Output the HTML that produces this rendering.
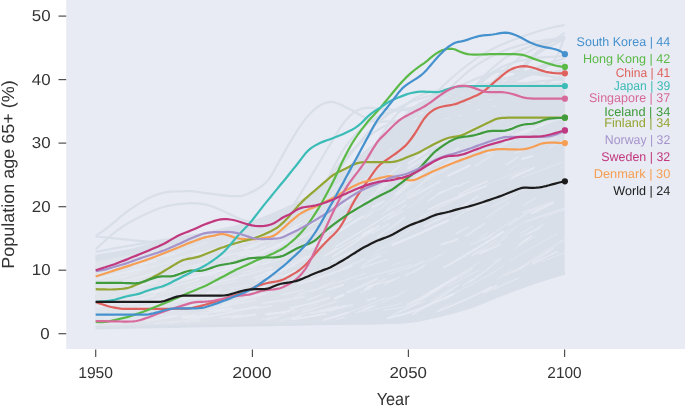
<!DOCTYPE html>
<html><head><meta charset="utf-8"><title>Population age 65+</title>
<style>html,body{margin:0;padding:0;background:#fff}svg{display:block}text{text-rendering:geometricPrecision}</style></head>
<body>
<svg width="685" height="406" viewBox="0 0 685 406">
<rect x="0" y="0" width="685" height="406" fill="#fff"/>
<rect x="66.2" y="0" width="618.8" height="349" fill="#e8ebf3"/>
<g fill="none" stroke="#d9dfe8" stroke-width="2.2" stroke-linecap="butt">
<path d="M95.7,235.9C98.8,233.8 102.0,231.8 105.1,229.5C112.4,224.3 119.7,217.0 127.0,211.7C135.3,205.8 143.6,199.9 152.0,196.5C158.2,194.0 164.5,192.1 170.7,191.7C177.2,191.3 183.6,191.1 190.1,191.1C195.0,191.1 199.9,192.4 204.8,193.0C209.7,193.6 214.6,194.2 219.5,194.8C224.4,195.3 229.3,196.2 234.2,196.2C236.7,196.2 239.2,196.1 241.7,195.9C244.1,195.6 246.5,194.3 248.9,193.3C251.4,192.2 253.9,191.0 256.4,189.5C258.9,188.0 261.4,186.7 263.9,184.4C265.3,183.1 266.8,181.8 268.3,180.0C271.2,176.4 274.1,170.4 277.0,165.4C281.4,157.9 285.8,149.4 290.1,142.2C295.0,134.1 299.9,125.7 304.8,119.6C309.7,113.6 314.6,108.6 319.5,105.7C323.5,103.3 327.4,101.9 331.4,101.9C337.2,101.9 343.1,106.0 348.9,108.8C353.9,111.2 358.9,114.8 363.9,117.1C368.3,119.1 372.7,122.2 377.0,122.2C387.5,122.2 397.9,121.1 408.3,119.0C418.7,116.9 429.1,111.5 439.6,108.2C460.4,101.6 481.2,96.6 502.1,92.3C522.9,88.1 543.8,86.0 564.6,82.8"/>
<path d="M95.7,249.2C103.0,242.9 110.3,235.5 117.6,230.2C125.9,224.0 134.3,219.6 142.6,215.6C149.9,212.0 157.2,208.6 164.5,206.7C170.2,205.1 175.9,204.4 181.7,203.8C184.5,203.5 187.3,203.2 190.1,203.2C195.0,203.2 199.9,203.6 204.8,204.4C209.7,205.2 214.6,207.5 219.5,209.5C224.4,211.5 229.3,214.2 234.2,216.2C239.1,218.1 244.0,220.9 248.9,221.3C255.1,221.7 261.4,221.9 267.6,221.9C274.9,221.9 282.2,217.7 289.5,209.8C296.1,202.8 302.6,189.9 309.2,179.3C315.1,169.8 321.1,159.1 327.0,149.5C333.5,139.1 339.9,126.8 346.4,119.6C349.7,115.9 353.1,112.5 356.4,110.7C360.4,108.6 364.3,107.6 368.3,107.6C371.7,107.6 375.2,108.5 378.6,108.8C388.5,109.7 398.4,110.1 408.3,110.1C423.9,110.1 439.6,100.6 455.2,95.5C470.8,90.4 486.4,83.7 502.1,79.6C522.9,74.2 543.8,73.3 564.6,70.1"/>
<path d="M95.7,236.5C106.1,237.6 116.5,238.7 127.0,239.7C139.3,240.8 151.6,242.5 163.8,242.5C177.6,242.5 191.4,242.0 205.1,241.0C220.7,239.8 236.4,237.1 252.0,232.1C262.4,228.7 272.8,223.6 283.3,219.4"/>
<path d="M95.7,251.8C108.6,249.4 121.5,247.0 134.5,244.8C152.8,241.6 171.1,238.7 189.5,235.9C205.1,233.5 220.7,231.7 236.4,228.9C246.8,227.0 257.2,224.7 267.6,222.5"/>
<path d="M95.7,308.3C137.4,304.1 179.1,304.1 220.7,295.6C241.6,291.4 262.4,285.0 283.3,270.2C304.1,255.4 324.9,231.9 345.8,206.7C361.4,187.8 377.0,162.7 392.7,143.1C408.3,123.6 423.9,104.3 439.6,89.1C456.2,73.0 472.9,59.7 489.6,50.4C499.5,44.9 509.4,41.4 519.3,37.7C529.2,34.0 539.1,30.6 549.0,28.2C554.2,26.9 559.4,26.1 564.6,25.0"/>
<path d="M95.7,301.9C137.4,295.6 179.1,295.6 220.7,282.9C241.6,276.5 262.4,265.9 283.3,251.1C304.1,236.3 324.9,213.0 345.8,194.0C366.6,174.9 387.5,152.7 408.3,136.8C429.1,120.9 450.0,109.3 470.8,98.7C491.7,88.1 512.5,83.8 533.3,73.3C538.6,70.6 543.8,69.6 549.0,65.0C551.6,62.7 554.2,61.5 556.8,56.8C559.4,52.0 562.0,43.2 564.6,36.4"/>
<path d="M95.7,298.5C106.1,298.5 116.5,298.5 127.0,298.4C137.4,298.3 147.8,298.2 158.2,298.0C168.6,297.9 179.1,297.6 189.5,297.5C199.9,297.3 210.3,297.1 220.7,297.0C231.2,296.9 241.6,296.9 252.0,296.8C262.4,296.6 272.8,296.5 283.3,296.0C293.7,295.4 304.1,294.8 314.5,293.2C324.9,291.5 335.4,289.8 345.8,286.0C356.2,282.1 366.6,277.8 377.0,269.9C387.5,262.0 397.9,251.8 408.3,238.5C418.7,225.1 429.1,206.7 439.6,189.6C450.0,172.4 460.4,151.3 470.8,135.3C481.2,119.3 491.7,104.5 502.1,93.6C512.5,82.7 522.9,75.6 533.3,69.7C543.8,63.9 554.2,62.1 564.6,58.3"/>
<path d="M95.7,289.9C106.1,289.9 116.5,289.9 127.0,289.9C137.4,289.9 147.8,289.9 158.2,289.8C168.6,289.8 179.1,289.8 189.5,289.6C199.9,289.5 210.3,289.3 220.7,289.1C231.2,288.9 241.6,288.6 252.0,288.5C262.4,288.3 272.8,288.3 283.3,288.2C293.7,288.1 304.1,288.1 314.5,287.8C324.9,287.5 335.4,287.0 345.8,285.5C356.2,283.9 366.6,282.5 377.0,278.3C387.5,274.1 397.9,269.7 408.3,260.2C418.7,250.8 429.1,238.1 439.6,221.4C450.0,204.7 460.4,180.6 470.8,160.0C481.2,139.4 491.7,114.8 502.1,97.8C512.5,80.7 522.9,67.5 533.3,57.6C543.8,47.8 554.2,45.0 564.6,38.6"/>
<path d="M95.7,314.9C106.1,315.0 116.5,315.0 127.0,315.1C137.4,315.1 147.8,315.3 158.2,315.3C168.6,315.4 179.1,315.4 189.5,315.4C199.9,315.4 210.3,315.2 220.7,315.1C231.2,315.0 241.6,314.8 252.0,314.6C262.4,314.4 272.8,314.3 283.3,313.8C293.7,313.2 304.1,312.9 314.5,311.2C324.9,309.5 335.4,308.4 345.8,303.3C356.2,298.3 366.6,293.0 377.0,281.1C387.5,269.3 397.9,251.5 408.3,232.0C418.7,212.6 429.1,184.1 439.6,164.4C450.0,144.7 460.4,126.1 470.8,113.8C481.2,101.4 491.7,95.7 502.1,90.4C512.5,85.2 522.9,83.9 533.3,82.1C543.8,80.3 554.2,80.3 564.6,79.4"/>
<path d="M95.7,286.0C106.1,285.8 116.5,285.6 127.0,285.3C137.4,285.0 147.8,284.5 158.2,284.1C168.6,283.7 179.1,283.3 189.5,282.9C199.9,282.5 210.3,282.4 220.7,281.7C231.2,281.1 241.6,280.5 252.0,278.9C262.4,277.3 272.8,275.5 283.3,271.9C293.7,268.3 304.1,264.1 314.5,257.3C324.9,250.6 335.4,242.2 345.8,231.2C356.2,220.2 366.6,206.0 377.0,191.4C387.5,176.8 397.9,158.8 408.3,143.6C418.7,128.4 429.1,112.4 439.6,100.1C450.0,87.7 460.4,77.5 470.8,69.4C481.2,61.3 491.7,56.0 502.1,51.5C512.5,46.9 522.9,44.5 533.3,42.1C543.8,39.8 554.2,39.1 564.6,37.5"/>
<path d="M95.7,278.0C106.1,278.0 116.5,278.0 127.0,278.0C137.4,278.0 147.8,278.0 158.2,277.9C168.6,277.9 179.1,277.9 189.5,277.8C199.9,277.7 210.3,277.5 220.7,277.4C231.2,277.2 241.6,277.0 252.0,276.8C262.4,276.7 272.8,276.6 283.3,276.4C293.7,276.2 304.1,276.1 314.5,275.6C324.9,275.0 335.4,274.5 345.8,272.9C356.2,271.3 366.6,269.7 377.0,265.9C387.5,262.1 397.9,257.8 408.3,249.9C418.7,242.0 429.1,231.7 439.6,218.7C450.0,205.8 460.4,187.9 470.8,172.3C481.2,156.6 491.7,138.2 502.1,124.7C512.5,111.3 522.9,100.0 533.3,91.6C543.8,83.1 554.2,79.9 564.6,74.1"/>
<path d="M95.7,313.8C106.1,313.9 116.5,313.9 127.0,313.9C137.4,314.0 147.8,314.1 158.2,314.2C168.6,314.2 179.1,314.4 189.5,314.4C199.9,314.4 210.3,314.3 220.7,314.2C231.2,314.0 241.6,313.7 252.0,313.2C262.4,312.7 272.8,312.3 283.3,311.3C293.7,310.3 304.1,309.5 314.5,307.1C324.9,304.7 335.4,302.5 345.8,296.9C356.2,291.4 366.6,285.0 377.0,273.8C387.5,262.7 397.9,247.4 408.3,230.2C418.7,213.0 429.1,189.5 439.6,170.7C450.0,151.8 460.4,131.6 470.8,117.2C481.2,102.9 491.7,92.6 502.1,84.6C512.5,76.6 522.9,72.8 533.3,69.1C543.8,65.5 554.2,64.8 564.6,62.7"/>
<path d="M95.7,320.1C106.1,320.1 116.5,320.1 127.0,320.1C137.4,320.1 147.8,320.1 158.2,320.1C168.6,320.1 179.1,320.1 189.5,320.1C199.9,320.1 210.3,320.1 220.7,320.1C231.2,320.0 241.6,320.0 252.0,319.8C262.4,319.7 272.8,319.6 283.3,319.1C293.7,318.6 304.1,318.3 314.5,316.7C324.9,315.1 335.4,314.0 345.8,308.7C356.2,303.4 366.6,298.1 377.0,284.8C387.5,271.4 397.9,251.2 408.3,228.7C418.7,206.2 429.1,172.4 439.6,149.6C450.0,126.8 460.4,105.7 470.8,92.0C481.2,78.2 491.7,72.5 502.1,67.0C512.5,61.4 522.9,60.3 533.3,58.6C543.8,56.9 554.2,56.9 564.6,56.1"/>
<path d="M95.7,318.1C106.1,318.1 116.5,318.0 127.0,318.0C137.4,318.0 147.8,318.0 158.2,318.1C168.6,318.1 179.1,318.5 189.5,318.5C199.9,318.5 210.3,317.8 220.7,317.2C231.2,316.6 241.6,315.7 252.0,314.7C262.4,313.7 272.8,312.8 283.3,311.1C293.7,309.4 304.1,307.7 314.5,304.5C324.9,301.4 335.4,298.0 345.8,292.4C356.2,286.8 366.6,280.3 377.0,271.2C387.5,262.0 397.9,250.8 408.3,237.4C418.7,224.1 429.1,207.5 439.6,191.1C450.0,174.6 460.4,155.3 470.8,138.6C481.2,122.0 491.7,104.8 502.1,91.0C512.5,77.1 522.9,65.2 533.3,55.5C543.8,45.8 554.2,40.3 564.6,32.8"/>
<path d="M95.7,286.4C106.1,286.3 116.5,286.3 127.0,286.3C137.4,286.3 147.8,286.3 158.2,286.2C168.6,286.1 179.1,286.0 189.5,285.6C199.9,285.2 210.3,284.2 220.7,283.2C231.2,282.3 241.6,280.9 252.0,279.9C262.4,278.8 272.8,278.9 283.3,276.8C293.7,274.8 304.1,272.8 314.5,267.5C324.9,262.3 335.4,255.4 345.8,245.2C356.2,235.1 366.6,221.1 377.0,206.5C387.5,192.0 397.9,173.0 408.3,158.0C418.7,143.0 429.1,127.7 439.6,116.6C450.0,105.5 460.4,97.7 470.8,91.4C481.2,85.1 491.7,82.0 502.1,79.0C512.5,76.1 522.9,74.9 533.3,73.6C543.8,72.3 554.2,72.1 564.6,71.4"/>
<path d="M95.7,314.5C106.1,314.6 116.5,314.7 127.0,314.8C137.4,314.9 147.8,315.3 158.2,315.3C168.6,315.3 179.1,315.3 189.5,315.1C199.9,315.0 210.3,314.4 220.7,313.8C231.2,313.2 241.6,312.6 252.0,311.7C262.4,310.7 272.8,309.9 283.3,308.1C293.7,306.4 304.1,304.6 314.5,301.1C324.9,297.6 335.4,293.7 345.8,287.0C356.2,280.2 366.6,272.1 377.0,260.8C387.5,249.4 397.9,234.7 408.3,218.7C418.7,202.7 429.1,182.4 439.6,164.6C450.0,146.8 460.4,127.1 470.8,111.8C481.2,96.5 491.7,83.1 502.1,72.6C512.5,62.1 522.9,54.9 533.3,48.9C543.8,42.9 554.2,40.5 564.6,36.3"/>
<path d="M95.7,301.8C106.1,301.5 116.5,301.3 127.0,301.0C137.4,300.6 147.8,300.0 158.2,299.8C168.6,299.5 179.1,299.3 189.5,299.3C199.9,299.3 210.3,299.8 220.7,300.0C231.2,300.2 241.6,300.6 252.0,300.6C262.4,300.6 272.8,300.4 283.3,300.1C293.7,299.7 304.1,299.1 314.5,297.9C324.9,296.7 335.4,295.5 345.8,292.9C356.2,290.4 366.6,287.6 377.0,282.6C387.5,277.5 397.9,271.4 408.3,262.4C418.7,253.4 429.1,241.8 439.6,228.5C450.0,215.2 460.4,198.1 470.8,182.8C481.2,167.6 491.7,150.3 502.1,136.9C512.5,123.5 522.9,111.7 533.3,102.6C543.8,93.4 554.2,88.9 564.6,82.1"/>
<path d="M95.7,318.0C106.1,318.0 116.5,318.0 127.0,318.0C137.4,318.0 147.8,318.0 158.2,318.0C168.6,317.9 179.1,317.9 189.5,317.8C199.9,317.7 210.3,317.5 220.7,317.1C231.2,316.7 241.6,316.1 252.0,315.5C262.4,315.0 272.8,314.8 283.3,313.7C293.7,312.6 304.1,312.0 314.5,309.0C324.9,306.1 335.4,303.0 345.8,296.0C356.2,288.9 366.6,280.4 377.0,266.7C387.5,253.1 397.9,234.0 408.3,214.1C418.7,194.2 429.1,167.7 439.6,147.4C450.0,127.0 460.4,106.5 470.8,92.0C481.2,77.5 491.7,67.9 502.1,60.1C512.5,52.3 522.9,48.9 533.3,45.4C543.8,42.0 554.2,41.4 564.6,39.4"/>
<path d="M95.7,315.3C106.1,315.2 116.5,315.2 127.0,315.2C137.4,315.2 147.8,315.2 158.2,315.2C168.6,315.1 179.1,315.1 189.5,315.0C199.9,314.8 210.3,314.8 220.7,314.3C231.2,313.9 241.6,313.7 252.0,312.4C262.4,311.1 272.8,310.2 283.3,306.4C293.7,302.5 304.1,298.7 314.5,289.2C324.9,279.7 335.4,266.2 345.8,249.2C356.2,232.1 366.6,206.6 377.0,186.9C387.5,167.2 397.9,145.1 408.3,131.0C418.7,116.9 429.1,107.6 439.6,102.3C450.0,97.0 460.4,96.2 470.8,94.4C481.2,92.6 491.7,92.0 502.1,91.3C512.5,90.6 522.9,90.4 533.3,90.2C543.8,89.9 554.2,89.9 564.6,89.8"/>
<path d="M95.7,307.1C106.1,307.1 116.5,307.1 127.0,307.1C137.4,307.1 147.8,307.1 158.2,307.1C168.6,307.1 179.1,307.1 189.5,307.0C199.9,307.0 210.3,307.0 220.7,306.8C231.2,306.7 241.6,306.7 252.0,306.3C262.4,306.0 272.8,305.8 283.3,304.9C293.7,304.0 304.1,303.4 314.5,301.1C324.9,298.7 335.4,296.6 345.8,291.0C356.2,285.4 366.6,279.1 377.0,267.3C387.5,255.5 397.9,238.1 408.3,220.2C418.7,202.4 429.1,175.9 439.6,160.2C450.0,144.5 460.4,134.6 470.8,126.1C481.2,117.6 491.7,113.6 502.1,109.4C512.5,105.2 522.9,102.9 533.3,100.9C543.8,98.9 554.2,98.7 564.6,97.5"/>
<path d="M95.7,320.2C106.1,320.1 116.5,320.0 127.0,319.8C137.4,319.6 147.8,319.3 158.2,318.8C168.6,318.4 179.1,317.9 189.5,316.8C199.9,315.7 210.3,314.7 220.7,312.4C231.2,310.1 241.6,307.6 252.0,303.0C262.4,298.5 272.8,293.0 283.3,284.9C293.7,276.7 304.1,266.1 314.5,253.9C324.9,241.7 335.4,226.0 345.8,211.8C356.2,197.5 366.6,181.9 377.0,168.6C387.5,155.2 397.9,142.3 408.3,131.7C418.7,121.2 429.1,107.9 439.6,105.2C450.0,102.6 460.4,101.2 470.8,101.2C481.2,101.2 491.7,102.0 502.1,102.0C512.5,102.0 522.9,100.9 533.3,100.4C543.8,100.0 554.2,99.8 564.6,99.5"/>
<path d="M95.7,279.4C106.1,279.4 116.5,279.4 127.0,279.4C137.4,279.4 147.8,279.4 158.2,279.4C168.6,279.4 179.1,279.4 189.5,279.3C199.9,279.3 210.3,279.2 220.7,279.1C231.2,279.0 241.6,278.9 252.0,278.6C262.4,278.3 272.8,278.0 283.3,277.2C293.7,276.4 304.1,275.7 314.5,273.8C324.9,271.9 335.4,270.0 345.8,265.6C356.2,261.3 366.6,256.1 377.0,247.8C387.5,239.5 397.9,228.1 408.3,215.9C418.7,203.7 429.1,187.9 439.6,174.5C450.0,161.0 460.4,146.2 470.8,135.1C481.2,124.0 491.7,110.1 502.1,107.7C512.5,105.3 522.9,104.1 533.3,104.1C543.8,104.1 554.2,104.1 564.6,104.1"/>
<path d="M95.7,298.5C106.1,298.5 116.5,298.5 127.0,298.5C137.4,298.5 147.8,298.5 158.2,298.4C168.6,298.4 179.1,298.4 189.5,298.4C199.9,298.4 210.3,298.4 220.7,298.3C231.2,298.2 241.6,298.2 252.0,298.0C262.4,297.8 272.8,297.7 283.3,297.2C293.7,296.7 304.1,296.3 314.5,295.0C324.9,293.7 335.4,292.6 345.8,289.3C356.2,286.0 366.6,282.6 377.0,275.3C387.5,267.9 397.9,258.7 408.3,245.1C418.7,231.5 429.1,212.5 439.6,193.4C450.0,174.3 460.4,147.4 470.8,130.6C481.2,113.8 491.7,96.8 502.1,92.5C512.5,88.3 522.9,87.7 533.3,86.2C543.8,84.7 554.2,84.5 564.6,83.7"/>
<path d="M95.7,303.0C106.1,303.0 116.5,303.0 127.0,303.0C137.4,302.9 147.8,302.9 158.2,302.8C168.6,302.8 179.1,302.7 189.5,302.5C199.9,302.2 210.3,302.1 220.7,301.3C231.2,300.5 241.6,300.0 252.0,297.6C262.4,295.2 272.8,293.2 283.3,287.0C293.7,280.7 304.1,272.8 314.5,260.0C324.9,247.1 335.4,227.4 345.8,209.7C356.2,192.1 366.6,169.2 377.0,154.1C387.5,139.0 397.9,127.3 408.3,119.0C418.7,110.6 429.1,107.4 439.6,103.9C450.0,100.3 460.4,99.1 470.8,97.7C481.2,96.3 491.7,95.4 502.1,95.4C512.5,95.4 522.9,95.9 533.3,96.0C543.8,96.0 554.2,96.0 564.6,96.1"/>
<path d="M95.7,313.7C106.1,313.7 116.5,313.7 127.0,313.7C137.4,313.6 147.8,313.6 158.2,313.5C168.6,313.4 179.1,313.3 189.5,313.2C199.9,313.0 210.3,312.8 220.7,312.4C231.2,312.1 241.6,311.7 252.0,310.9C262.4,310.1 272.8,309.4 283.3,307.7C293.7,306.1 304.1,304.5 314.5,301.3C324.9,298.1 335.4,294.6 345.8,288.8C356.2,283.0 366.6,276.3 377.0,266.6C387.5,257.0 397.9,245.5 408.3,231.1C418.7,216.6 429.1,193.9 439.6,179.8C450.0,165.7 460.4,155.0 470.8,146.5C481.2,137.9 491.7,134.1 502.1,128.6C512.5,123.1 522.9,117.5 533.3,113.6C543.8,109.7 554.2,108.0 564.6,105.3"/>
<path d="M95.7,308.0C106.1,307.9 116.5,307.9 127.0,307.8C137.4,307.8 147.8,307.7 158.2,307.6C168.6,307.4 179.1,307.2 189.5,306.8C199.9,306.4 210.3,306.0 220.7,304.9C231.2,303.8 241.6,302.8 252.0,300.2C262.4,297.6 272.8,294.9 283.3,289.1C293.7,283.4 304.1,276.2 314.5,265.5C324.9,254.8 335.4,240.0 345.8,224.9C356.2,209.9 366.6,190.3 377.0,175.2C387.5,160.1 397.9,145.2 408.3,134.4C418.7,123.6 429.1,116.5 439.6,110.3C450.0,104.1 460.4,100.6 470.8,97.1C481.2,93.6 491.7,90.3 502.1,89.4C512.5,88.4 522.9,88.0 533.3,88.0C543.8,88.0 554.2,89.6 564.6,90.4"/>
<path d="M95.7,296.7C106.1,296.7 116.5,296.7 127.0,296.7C137.4,296.7 147.8,296.7 158.2,296.7C168.6,296.6 179.1,296.6 189.5,296.6C199.9,296.6 210.3,296.6 220.7,296.5C231.2,296.5 241.6,296.4 252.0,296.3C262.4,296.1 272.8,296.0 283.3,295.5C293.7,295.1 304.1,294.8 314.5,293.6C324.9,292.3 335.4,291.5 345.8,288.3C356.2,285.0 366.6,282.1 377.0,274.1C387.5,266.1 397.9,253.7 408.3,240.4C418.7,227.2 429.1,209.3 439.6,194.5C450.0,179.8 460.4,164.1 470.8,151.9C481.2,139.7 491.7,128.8 502.1,121.2C512.5,113.5 522.9,109.5 533.3,105.9C543.8,102.3 554.2,101.7 564.6,99.7"/>
<path d="M95.7,299.9C106.1,299.9 116.5,299.8 127.0,299.8C137.4,299.7 147.8,299.6 158.2,299.5C168.6,299.3 179.1,299.2 189.5,298.7C199.9,298.3 210.3,297.9 220.7,296.9C231.2,295.9 241.6,294.9 252.0,292.5C262.4,290.1 272.8,287.7 283.3,282.5C293.7,277.3 304.1,271.0 314.5,261.3C324.9,251.7 335.4,238.6 345.8,224.8C356.2,210.9 366.6,192.7 377.0,178.1C387.5,163.6 397.9,148.5 408.3,137.5C418.7,126.4 429.1,118.4 439.6,112.0C450.0,105.7 460.4,102.5 470.8,99.5C481.2,96.5 491.7,95.3 502.1,93.9C512.5,92.6 522.9,92.2 533.3,91.6C543.8,91.1 554.2,91.0 564.6,90.6"/>
<path d="M95.7,303.2C106.1,303.2 116.5,303.2 127.0,303.1C137.4,303.1 147.8,303.0 158.2,302.9C168.6,302.7 179.1,302.6 189.5,302.2C199.9,301.7 210.3,301.4 220.7,300.2C231.2,299.0 241.6,298.1 252.0,295.0C262.4,292.0 272.8,288.9 283.3,282.0C293.7,275.1 304.1,266.1 314.5,253.8C324.9,241.6 335.4,223.9 345.8,208.5C356.2,193.2 366.6,174.6 377.0,161.7C387.5,148.7 397.9,138.6 408.3,130.7C418.7,122.8 429.1,118.7 439.6,114.5C450.0,110.2 460.4,105.7 470.8,105.2C481.2,104.7 491.7,104.4 502.1,104.4C512.5,104.4 522.9,106.3 533.3,106.5C543.8,106.6 554.2,106.6 564.6,106.7"/>
<path d="M95.7,287.6C106.1,287.6 116.5,287.6 127.0,287.5C137.4,287.5 147.8,287.4 158.2,287.3C168.6,287.2 179.1,287.1 189.5,286.9C199.9,286.6 210.3,286.4 220.7,285.9C231.2,285.4 241.6,284.9 252.0,283.9C262.4,282.9 272.8,281.9 283.3,279.8C293.7,277.8 304.1,275.5 314.5,271.6C324.9,267.7 335.4,263.1 345.8,256.2C356.2,249.3 366.6,240.8 377.0,230.0C387.5,219.3 397.9,205.3 408.3,191.7C418.7,178.1 429.1,161.1 439.6,148.6C450.0,136.1 460.4,124.8 470.8,116.8C481.2,108.8 491.7,104.6 502.1,100.3C512.5,96.0 522.9,93.4 533.3,90.9C543.8,88.4 554.2,87.1 564.6,85.2"/>
<path d="M95.7,314.4C106.1,314.3 116.5,314.3 127.0,314.3C137.4,314.3 147.8,314.3 158.2,314.3C168.6,314.3 179.1,314.3 189.5,314.3C199.9,314.3 210.3,314.3 220.7,314.2C231.2,314.1 241.6,314.1 252.0,313.8C262.4,313.6 272.8,313.4 283.3,312.7C293.7,311.9 304.1,311.4 314.5,308.8C324.9,306.2 335.4,304.1 345.8,296.6C356.2,289.1 366.6,279.6 377.0,263.9C387.5,248.2 397.9,223.4 408.3,202.4C418.7,181.4 429.1,155.6 439.6,137.7C450.0,119.8 460.4,106.2 470.8,95.0C481.2,83.8 491.7,70.5 502.1,70.5C512.5,70.5 522.9,71.1 533.3,72.3C543.8,73.5 554.2,78.0 564.6,80.8"/>
<path d="M95.7,288.4C106.1,288.3 116.5,288.3 127.0,288.2C137.4,288.1 147.8,288.0 158.2,287.8C168.6,287.6 179.1,287.4 189.5,286.9C199.9,286.4 210.3,285.9 220.7,284.7C231.2,283.4 241.6,282.2 252.0,279.4C262.4,276.5 272.8,273.5 283.3,267.5C293.7,261.5 304.1,254.1 314.5,243.6C324.9,233.1 335.4,218.7 345.8,204.5C356.2,190.3 366.6,172.3 377.0,158.4C387.5,144.4 397.9,130.9 408.3,120.7C418.7,110.5 429.1,103.8 439.6,97.2C450.0,90.5 460.4,85.3 470.8,81.0C481.2,76.7 491.7,71.5 502.1,71.5C512.5,71.5 522.9,72.9 533.3,74.1C543.8,75.3 554.2,77.0 564.6,78.5"/>
<path d="M95.7,284.3C106.1,284.2 116.5,284.2 127.0,284.2C137.4,284.2 147.8,284.2 158.2,284.1C168.6,284.1 179.1,284.1 189.5,284.0C199.9,283.9 210.3,283.8 220.7,283.6C231.2,283.4 241.6,283.2 252.0,282.7C262.4,282.2 272.8,281.8 283.3,280.7C293.7,279.6 304.1,278.6 314.5,276.2C324.9,273.9 335.4,271.5 345.8,266.8C356.2,262.1 366.6,256.9 377.0,248.3C387.5,239.7 397.9,229.8 408.3,215.4C418.7,201.1 429.1,176.1 439.6,162.2C450.0,148.4 460.4,140.9 470.8,132.4C481.2,123.8 491.7,116.9 502.1,110.8C512.5,104.6 522.9,99.3 533.3,95.5C543.8,91.6 554.2,90.4 564.6,87.8"/>
<path d="M95.7,315.1C106.1,314.9 116.5,314.9 127.0,314.7C137.4,314.4 147.8,314.2 158.2,313.8C168.6,313.3 179.1,312.8 189.5,311.8C199.9,310.8 210.3,309.8 220.7,307.8C231.2,305.8 241.6,303.6 252.0,299.6C262.4,295.6 272.8,291.0 283.3,283.9C293.7,276.8 304.1,267.9 314.5,257.1C324.9,246.3 335.4,232.4 345.8,219.0C356.2,205.7 366.6,190.1 377.0,177.2C387.5,164.4 397.9,152.3 408.3,142.1C418.7,131.9 429.1,123.8 439.6,116.0C450.0,108.2 460.4,98.8 470.8,95.5C481.2,92.2 491.7,90.6 502.1,90.6C512.5,90.6 522.9,94.4 533.3,94.8C543.8,95.3 554.2,95.3 564.6,95.5"/>
<path d="M95.7,284.4C106.1,284.3 116.5,284.3 127.0,284.1C137.4,283.9 147.8,283.8 158.2,283.3C168.6,282.8 179.1,282.4 189.5,281.2C199.9,279.9 210.3,278.9 220.7,275.8C231.2,272.8 241.6,269.6 252.0,263.1C262.4,256.6 272.8,247.9 283.3,236.9C293.7,225.9 304.1,210.3 314.5,197.0C324.9,183.7 335.4,168.0 345.8,156.9C356.2,145.8 366.6,137.2 377.0,130.4C387.5,123.7 397.9,120.6 408.3,116.5C418.7,112.4 429.1,108.4 439.6,105.8C450.0,103.2 460.4,100.8 470.8,100.8C481.2,100.8 491.7,104.7 502.1,106.0C512.5,107.3 522.9,108.5 533.3,108.5C543.8,108.6 554.2,108.6 564.6,108.7"/>
<path d="M95.7,285.3C106.1,285.3 116.5,285.3 127.0,285.3C137.4,285.3 147.8,285.3 158.2,285.3C168.6,285.3 179.1,285.3 189.5,285.3C199.9,285.2 210.3,285.2 220.7,285.1C231.2,285.0 241.6,284.9 252.0,284.5C262.4,284.1 272.8,283.8 283.3,282.5C293.7,281.2 304.1,280.2 314.5,275.9C324.9,271.6 335.4,266.7 345.8,256.8C356.2,246.9 366.6,231.1 377.0,216.6C387.5,202.1 397.9,182.2 408.3,169.7C418.7,157.3 429.1,148.1 439.6,141.7C450.0,135.4 460.4,133.6 470.8,131.6C481.2,129.7 491.7,129.3 502.1,128.7C512.5,128.1 522.9,128.0 533.3,127.8C543.8,127.6 554.2,127.6 564.6,127.5"/>
<path d="M95.7,305.5C106.1,305.5 116.5,305.5 127.0,305.5C137.4,305.5 147.8,305.5 158.2,305.5C168.6,305.5 179.1,305.5 189.5,305.4C199.9,305.4 210.3,305.4 220.7,305.2C231.2,305.1 241.6,305.0 252.0,304.7C262.4,304.3 272.8,304.1 283.3,302.9C293.7,301.8 304.1,301.0 314.5,297.8C324.9,294.6 335.4,291.5 345.8,283.7C356.2,275.8 366.6,265.3 377.0,250.7C387.5,236.1 397.9,214.2 408.3,196.1C418.7,177.9 429.1,155.8 439.6,141.6C450.0,127.5 460.4,117.4 470.8,111.1C481.2,104.9 491.7,103.7 502.1,101.7C512.5,99.8 522.9,99.5 533.3,98.8C543.8,98.1 554.2,98.0 564.6,97.5"/>
<path d="M95.7,280.5C106.1,280.5 116.5,280.5 127.0,280.5C137.4,280.5 147.8,280.5 158.2,280.5C168.6,280.5 179.1,280.5 189.5,280.5C199.9,280.5 210.3,280.4 220.7,280.3C231.2,280.2 241.6,280.1 252.0,279.7C262.4,279.3 272.8,278.9 283.3,277.4C293.7,275.8 304.1,274.5 314.5,268.7C324.9,262.9 335.4,255.2 345.8,241.6C356.2,228.0 366.6,204.9 377.0,187.2C387.5,169.4 397.9,147.8 408.3,135.1C418.7,122.4 429.1,115.2 439.6,111.0C450.0,106.8 460.4,105.4 470.8,104.7C481.2,103.9 491.7,103.7 502.1,103.5C512.5,103.2 522.9,103.2 533.3,103.1C543.8,103.0 554.2,103.0 564.6,103.0"/>
<path d="M95.7,301.1C106.1,301.1 116.5,301.1 127.0,301.1C137.4,301.0 147.8,301.0 158.2,300.9C168.6,300.8 179.1,300.7 189.5,300.4C199.9,300.0 210.3,299.7 220.7,298.2C231.2,296.8 241.6,295.5 252.0,290.0C262.4,284.6 272.8,277.4 283.3,263.4C293.7,249.3 304.1,225.2 314.5,205.7C324.9,186.2 335.4,160.9 345.8,146.2C356.2,131.5 366.6,123.5 377.0,117.4C387.5,111.3 397.9,110.4 408.3,108.3C418.7,106.2 429.1,105.9 439.6,104.9C450.0,103.9 460.4,102.2 470.8,102.2C481.2,102.2 491.7,102.3 502.1,102.6C512.5,102.8 522.9,104.1 533.3,104.5C543.8,104.9 554.2,104.9 564.6,105.1"/>
<path d="M95.7,284.6C106.1,284.6 116.5,284.6 127.0,284.6C137.4,284.6 147.8,284.6 158.2,284.5C168.6,284.5 179.1,284.4 189.5,284.3C199.9,284.1 210.3,284.1 220.7,283.6C231.2,283.2 241.6,282.9 252.0,281.6C262.4,280.3 272.8,279.3 283.3,275.7C293.7,272.1 304.1,268.1 314.5,259.8C324.9,251.5 335.4,239.4 345.8,225.8C356.2,212.2 366.6,192.4 377.0,178.0C387.5,163.5 397.9,148.5 408.3,139.2C418.7,129.9 429.1,124.5 439.6,122.3C450.0,120.1 460.4,119.5 470.8,119.0C481.2,118.5 491.7,118.5 502.1,118.3C512.5,118.0 522.9,117.9 533.3,117.7C543.8,117.6 554.2,117.6 564.6,117.5"/>
<path d="M95.7,305.8C106.1,305.8 116.5,305.8 127.0,305.8C137.4,305.8 147.8,305.8 158.2,305.8C168.6,305.8 179.1,305.8 189.5,305.8C199.9,305.8 210.3,305.8 220.7,305.7C231.2,305.7 241.6,305.7 252.0,305.5C262.4,305.4 272.8,305.3 283.3,304.8C293.7,304.3 304.1,303.8 314.5,301.7C324.9,299.7 335.4,297.8 345.8,290.0C356.2,282.3 366.6,271.0 377.0,252.9C387.5,234.8 397.9,203.6 408.3,181.4C418.7,159.3 429.1,134.8 439.6,119.9C450.0,105.0 460.4,97.9 470.8,92.1C481.2,86.3 491.7,83.4 502.1,83.4C512.5,83.4 522.9,83.7 533.3,84.1C543.8,84.6 554.2,85.5 564.6,86.2"/>
<path d="M95.7,294.7C106.1,294.6 116.5,294.6 127.0,294.4C137.4,294.3 147.8,294.2 158.2,293.9C168.6,293.5 179.1,293.3 189.5,292.4C199.9,291.6 210.3,290.9 220.7,288.9C231.2,287.0 241.6,285.0 252.0,280.6C262.4,276.3 272.8,271.1 283.3,262.9C293.7,254.7 304.1,243.5 314.5,231.6C324.9,219.7 335.4,204.0 345.8,191.5C356.2,179.1 366.6,166.2 377.0,157.0C387.5,147.7 397.9,141.2 408.3,135.9C418.7,130.6 429.1,127.9 439.6,125.0C450.0,122.1 460.4,118.6 470.8,118.6C481.2,118.6 491.7,118.6 502.1,118.7C512.5,118.7 522.9,118.8 533.3,118.8C543.8,118.8 554.2,118.6 564.6,118.5"/>
<path d="M95.7,291.3C106.1,291.3 116.5,291.2 127.0,291.1C137.4,290.9 147.8,290.8 158.2,290.4C168.6,290.0 179.1,289.7 189.5,288.7C199.9,287.7 210.3,286.8 220.7,284.3C231.2,281.8 241.6,279.2 252.0,273.5C262.4,267.8 272.8,260.6 283.3,249.9C293.7,239.2 304.1,224.0 314.5,209.2C324.9,194.3 335.4,175.0 345.8,160.7C356.2,146.4 366.6,133.0 377.0,123.3C387.5,113.7 397.9,107.9 408.3,102.9C418.7,97.9 429.1,96.1 439.6,93.4C450.0,90.8 460.4,89.0 470.8,87.1C481.2,85.3 491.7,82.4 502.1,82.4C512.5,82.4 522.9,83.5 533.3,84.3C543.8,85.1 554.2,86.3 564.6,87.3"/>
<path d="M95.7,304.4C106.1,304.4 116.5,304.4 127.0,304.4C137.4,304.3 147.8,304.3 158.2,304.3C168.6,304.3 179.1,304.3 189.5,304.3C199.9,304.2 210.3,304.2 220.7,304.0C231.2,303.8 241.6,303.5 252.0,302.7C262.4,301.9 272.8,301.1 283.3,297.9C293.7,294.6 304.1,291.2 314.5,280.1C324.9,268.9 335.4,251.1 345.8,230.8C356.2,210.5 366.6,178.2 377.0,158.5C387.5,138.8 397.9,122.8 408.3,112.4C418.7,102.0 429.1,99.2 439.6,96.3C450.0,93.4 460.4,92.6 470.8,91.9C481.2,91.2 491.7,91.0 502.1,90.8C512.5,90.7 522.9,90.6 533.3,90.6C543.8,90.5 554.2,90.5 564.6,90.5"/>
<path d="M95.7,301.2C106.1,301.2 116.5,301.2 127.0,301.2C137.4,301.2 147.8,301.2 158.2,301.1C168.6,301.1 179.1,301.0 189.5,300.8C199.9,300.6 210.3,300.5 220.7,299.9C231.2,299.3 241.6,298.9 252.0,296.8C262.4,294.8 272.8,293.1 283.3,287.3C293.7,281.4 304.1,274.0 314.5,261.7C324.9,249.4 335.4,230.3 345.8,213.3C356.2,196.4 366.6,174.2 377.0,160.0C387.5,145.9 397.9,132.2 408.3,128.4C418.7,124.7 429.1,122.8 439.6,122.8C450.0,122.8 460.4,124.4 470.8,124.5C481.2,124.5 491.7,124.5 502.1,124.5C512.5,124.5 522.9,124.3 533.3,124.3C543.8,124.2 554.2,124.2 564.6,124.2"/>
<path d="M95.7,277.3C106.1,277.3 116.5,277.3 127.0,277.3C137.4,277.3 147.8,277.3 158.2,277.3C168.6,277.3 179.1,277.2 189.5,277.2C199.9,277.1 210.3,277.1 220.7,276.9C231.2,276.7 241.6,276.6 252.0,276.2C262.4,275.7 272.8,275.3 283.3,274.1C293.7,272.9 304.1,271.8 314.5,268.7C324.9,265.7 335.4,262.3 345.8,255.7C356.2,249.2 366.6,240.6 377.0,229.3C387.5,218.0 397.9,201.4 408.3,187.7C418.7,174.0 429.1,156.1 439.6,147.2C450.0,138.4 460.4,137.0 470.8,134.0C481.2,131.1 491.7,130.9 502.1,129.6C512.5,128.3 522.9,127.2 533.3,126.4C543.8,125.7 554.2,125.5 564.6,125.1"/>
<path d="M95.7,297.2C106.1,297.2 116.5,297.2 127.0,297.2C137.4,297.1 147.8,297.1 158.2,297.1C168.6,297.1 179.1,297.1 189.5,297.0C199.9,296.8 210.3,296.8 220.7,296.4C231.2,296.1 241.6,295.9 252.0,294.8C262.4,293.7 272.8,293.0 283.3,289.5C293.7,286.0 304.1,282.8 314.5,274.0C324.9,265.2 335.4,252.7 345.8,236.5C356.2,220.3 366.6,195.8 377.0,177.1C387.5,158.4 397.9,138.1 408.3,124.3C418.7,110.5 429.1,98.0 439.6,94.5C450.0,91.0 460.4,90.4 470.8,89.2C481.2,88.0 491.7,87.8 502.1,87.3C512.5,86.8 522.9,86.5 533.3,86.3C543.8,86.1 554.2,86.1 564.6,86.0"/>
<path d="M95.7,310.1C106.1,310.0 116.5,310.0 127.0,309.9C137.4,309.8 147.8,309.7 158.2,309.3C168.6,309.0 179.1,308.7 189.5,307.9C199.9,307.1 210.3,306.4 220.7,304.4C231.2,302.5 241.6,300.5 252.0,296.1C262.4,291.6 272.8,286.4 283.3,277.5C293.7,268.6 304.1,256.7 314.5,242.8C324.9,229.0 335.4,210.1 345.8,194.4C356.2,178.7 366.6,161.4 377.0,148.6C387.5,135.7 397.9,125.3 408.3,117.4C418.7,109.5 429.1,104.1 439.6,100.9C450.0,97.8 460.4,97.2 470.8,96.2C481.2,95.2 491.7,95.1 502.1,94.7C512.5,94.3 522.9,94.0 533.3,93.8C543.8,93.5 554.2,93.5 564.6,93.3"/>
<path d="M95.7,306.2C106.1,306.2 116.5,306.2 127.0,306.2C137.4,306.2 147.8,306.1 158.2,306.1C168.6,306.1 179.1,306.0 189.5,305.9C199.9,305.8 210.3,305.8 220.7,305.5C231.2,305.2 241.6,305.0 252.0,304.3C262.4,303.6 272.8,303.1 283.3,301.4C293.7,299.7 304.1,298.2 314.5,294.3C324.9,290.4 335.4,286.0 345.8,278.1C356.2,270.2 366.6,259.7 377.0,247.0C387.5,234.4 397.9,217.3 408.3,202.3C418.7,187.2 429.1,169.5 439.6,156.6C450.0,143.7 460.4,132.0 470.8,124.9C481.2,117.8 491.7,114.3 502.1,114.2C512.5,114.0 522.9,114.0 533.3,113.9C543.8,113.8 554.2,113.7 564.6,113.6"/>
<path d="M95.7,272.8C106.1,272.8 116.5,272.8 127.0,272.8C137.4,272.8 147.8,272.8 158.2,272.8C168.6,272.8 179.1,272.8 189.5,272.8C199.9,272.8 210.3,272.8 220.7,272.7C231.2,272.6 241.6,272.6 252.0,272.3C262.4,272.0 272.8,271.8 283.3,270.8C293.7,269.7 304.1,268.8 314.5,264.9C324.9,261.0 335.4,256.1 345.8,245.0C356.2,233.9 366.6,215.3 377.0,198.3C387.5,181.4 397.9,157.9 408.3,143.3C418.7,128.6 429.1,116.6 439.6,110.3C450.0,103.9 460.4,100.7 470.8,100.7C481.2,100.7 491.7,103.0 502.1,103.8C512.5,104.7 522.9,105.7 533.3,105.8C543.8,105.9 554.2,105.9 564.6,106.0"/>
<path d="M95.7,286.0C106.1,285.9 116.5,285.9 127.0,285.7C137.4,285.5 147.8,285.3 158.2,284.8C168.6,284.4 179.1,283.9 189.5,282.8C199.9,281.6 210.3,280.5 220.7,277.7C231.2,275.0 241.6,272.0 252.0,266.2C262.4,260.4 272.8,252.9 283.3,243.2C293.7,233.4 304.1,219.9 314.5,207.7C324.9,195.5 335.4,180.8 345.8,170.0C356.2,159.2 366.6,149.9 377.0,143.0C387.5,136.0 397.9,132.1 408.3,128.4C418.7,124.8 429.1,122.7 439.6,121.0C450.0,119.2 460.4,117.9 470.8,117.9C481.2,117.9 491.7,118.0 502.1,118.0C512.5,118.0 522.9,117.9 533.3,117.9C543.8,117.8 554.2,117.8 564.6,117.7"/>
<path d="M95.7,301.4C106.1,301.4 116.5,301.4 127.0,301.4C137.4,301.4 147.8,301.4 158.2,301.4C168.6,301.4 179.1,301.4 189.5,301.4C199.9,301.4 210.3,301.3 220.7,301.3C231.2,301.2 241.6,301.2 252.0,301.0C262.4,300.8 272.8,300.6 283.3,299.9C293.7,299.2 304.1,298.6 314.5,296.2C324.9,293.7 335.4,291.7 345.8,284.4C356.2,277.0 366.6,267.6 377.0,252.1C387.5,236.5 397.9,211.1 408.3,191.0C418.7,170.9 429.1,145.5 439.6,131.5C450.0,117.6 460.4,111.4 470.8,107.2C481.2,103.1 491.7,102.5 502.1,101.0C512.5,99.6 522.9,99.0 533.3,98.5C543.8,97.9 554.2,97.9 564.6,97.6"/>
<path d="M95.7,297.1C106.1,297.1 116.5,297.1 127.0,297.1C137.4,297.1 147.8,297.0 158.2,297.0C168.6,296.9 179.1,296.8 189.5,296.6C199.9,296.3 210.3,296.1 220.7,295.1C231.2,294.1 241.6,293.4 252.0,290.1C262.4,286.8 272.8,283.4 283.3,274.4C293.7,265.4 304.1,251.5 314.5,236.2C324.9,220.9 335.4,197.6 345.8,182.4C356.2,167.2 366.6,153.8 377.0,145.0C387.5,136.1 397.9,133.7 408.3,129.3C418.7,124.9 429.1,121.4 439.6,118.6C450.0,115.9 460.4,112.8 470.8,112.8C481.2,112.8 491.7,119.9 502.1,121.1C512.5,122.4 522.9,123.0 533.3,123.0C543.8,123.0 554.2,123.0 564.6,123.0"/>
<path d="M95.7,274.3C106.1,274.3 116.5,274.3 127.0,274.3C137.4,274.3 147.8,274.3 158.2,274.3C168.6,274.3 179.1,274.3 189.5,274.2C199.9,274.1 210.3,274.0 220.7,273.8C231.2,273.5 241.6,273.2 252.0,272.1C262.4,271.1 272.8,270.2 283.3,266.3C293.7,262.4 304.1,258.1 314.5,247.3C324.9,236.5 335.4,219.2 345.8,201.6C356.2,184.0 366.6,158.0 377.0,141.6C387.5,125.1 397.9,111.5 408.3,102.9C418.7,94.3 429.1,91.7 439.6,90.0C450.0,88.3 460.4,88.0 470.8,87.4C481.2,86.8 491.7,86.7 502.1,86.5C512.5,86.3 522.9,86.3 533.3,86.2C543.8,86.2 554.2,86.2 564.6,86.1"/>
<path d="M95.7,310.6C106.1,310.6 116.5,310.6 127.0,310.5C137.4,310.5 147.8,310.4 158.2,310.3C168.6,310.1 179.1,310.0 189.5,309.5C199.9,309.1 210.3,308.8 220.7,307.4C231.2,306.1 241.6,305.1 252.0,301.5C262.4,297.9 272.8,294.2 283.3,286.1C293.7,278.0 304.1,266.6 314.5,252.9C324.9,239.1 335.4,219.2 345.8,203.7C356.2,188.2 366.6,171.3 377.0,160.0C387.5,148.6 397.9,141.6 408.3,135.6C418.7,129.6 429.1,127.9 439.6,124.2C450.0,120.6 460.4,115.7 470.8,113.6C481.2,111.5 491.7,110.4 502.1,110.4C512.5,110.4 522.9,116.3 533.3,117.7C543.8,119.0 554.2,119.0 564.6,119.7"/>
<path d="M95.7,296.2C106.1,296.2 116.5,296.2 127.0,296.2C137.4,296.2 147.8,296.2 158.2,296.1C168.6,296.1 179.1,296.0 189.5,295.8C199.9,295.7 210.3,295.5 220.7,294.9C231.2,294.3 241.6,293.9 252.0,291.9C262.4,289.9 272.8,288.3 283.3,282.6C293.7,276.8 304.1,269.7 314.5,257.4C324.9,245.2 335.4,225.9 345.8,209.0C356.2,192.2 366.6,170.4 377.0,156.3C387.5,142.3 397.9,132.2 408.3,124.8C418.7,117.4 429.1,114.7 439.6,112.2C450.0,109.7 460.4,109.0 470.8,108.4C481.2,107.8 491.7,107.7 502.1,107.5C512.5,107.3 522.9,107.3 533.3,107.2C543.8,107.2 554.2,107.2 564.6,107.1"/>
<path d="M95.7,309.0C106.1,309.0 116.5,309.0 127.0,309.0C137.4,308.9 147.8,308.9 158.2,308.8C168.6,308.7 179.1,308.6 189.5,308.4C199.9,308.1 210.3,307.9 220.7,307.2C231.2,306.6 241.6,306.0 252.0,304.3C262.4,302.6 272.8,301.1 283.3,297.1C293.7,293.2 304.1,288.7 314.5,280.7C324.9,272.6 335.4,261.7 345.8,248.7C356.2,235.8 366.6,218.0 377.0,202.9C387.5,187.8 397.9,170.6 408.3,158.2C418.7,145.7 429.1,135.3 439.6,128.4C450.0,121.4 460.4,119.2 470.8,116.4C481.2,113.6 491.7,112.5 502.1,111.3C512.5,110.1 522.9,109.5 533.3,109.0C543.8,108.4 554.2,108.4 564.6,108.1"/>
<path d="M95.7,296.9C106.1,296.9 116.5,296.9 127.0,296.8C137.4,296.8 147.8,296.8 158.2,296.8C168.6,296.7 179.1,296.7 189.5,296.6C199.9,296.5 210.3,296.5 220.7,296.2C231.2,296.0 241.6,295.8 252.0,295.2C262.4,294.5 272.8,294.0 283.3,292.4C293.7,290.8 304.1,289.4 314.5,285.6C324.9,281.9 335.4,278.0 345.8,270.0C356.2,262.1 366.6,251.9 377.0,237.9C387.5,223.9 397.9,200.0 408.3,185.9C418.7,171.7 429.1,162.4 439.6,153.2C450.0,143.9 460.4,136.4 470.8,130.5C481.2,124.6 491.7,121.0 502.1,118.0C512.5,115.1 522.9,114.0 533.3,112.7C543.8,111.5 554.2,111.3 564.6,110.6"/>
<path d="M95.7,283.1C106.1,283.1 116.5,283.1 127.0,283.1C137.4,283.0 147.8,283.0 158.2,282.9C168.6,282.8 179.1,282.8 189.5,282.5C199.9,282.3 210.3,282.1 220.7,281.4C231.2,280.7 241.6,280.2 252.0,278.3C262.4,276.3 272.8,274.6 283.3,269.7C293.7,264.7 304.1,258.8 314.5,248.5C324.9,238.2 335.4,223.2 345.8,208.1C356.2,192.9 366.6,172.4 377.0,157.8C387.5,143.2 397.9,129.8 408.3,120.4C418.7,111.1 429.1,106.2 439.6,101.9C450.0,97.6 460.4,96.2 470.8,94.5C481.2,92.9 491.7,92.5 502.1,91.9C512.5,91.3 522.9,91.1 533.3,90.9C543.8,90.7 554.2,90.7 564.6,90.6"/>
<path d="M95.7,277.9C106.1,277.9 116.5,277.9 127.0,277.9C137.4,277.9 147.8,277.9 158.2,277.9C168.6,277.9 179.1,277.9 189.5,277.9C199.9,277.9 210.3,277.9 220.7,277.8C231.2,277.8 241.6,277.7 252.0,277.5C262.4,277.4 272.8,277.2 283.3,276.6C293.7,275.9 304.1,275.4 314.5,273.2C324.9,271.0 335.4,269.2 345.8,262.4C356.2,255.7 366.6,246.8 377.0,232.9C387.5,219.0 397.9,196.4 408.3,179.1C418.7,161.7 429.1,141.4 439.6,129.0C450.0,116.6 460.4,110.1 470.8,104.6C481.2,99.1 491.7,97.7 502.1,95.9C512.5,94.1 522.9,93.7 533.3,93.2C543.8,92.7 554.2,92.7 564.6,92.4"/>
<path d="M95.7,284.3C106.1,284.3 116.5,284.3 127.0,284.3C137.4,284.3 147.8,284.3 158.2,284.2C168.6,284.2 179.1,284.1 189.5,284.0C199.9,283.9 210.3,283.8 220.7,283.4C231.2,283.1 241.6,282.8 252.0,281.8C262.4,280.8 272.8,280.0 283.3,277.4C293.7,274.7 304.1,272.1 314.5,265.8C324.9,259.4 335.4,251.3 345.8,239.4C356.2,227.6 366.6,210.4 377.0,194.6C387.5,178.7 397.9,159.3 408.3,144.5C418.7,129.7 429.1,115.1 439.6,105.8C450.0,96.6 460.4,89.2 470.8,89.2C481.2,89.2 491.7,89.2 502.1,89.2C512.5,89.2 522.9,89.2 533.3,89.2C543.8,89.2 554.2,88.8 564.6,88.6"/>
<path d="M95.7,312.9C106.1,312.8 116.5,312.8 127.0,312.6C137.4,312.5 147.8,312.4 158.2,312.0C168.6,311.6 179.1,311.3 189.5,310.4C199.9,309.5 210.3,308.7 220.7,306.4C231.2,304.2 241.6,302.0 252.0,296.9C262.4,291.9 272.8,285.9 283.3,276.2C293.7,266.4 304.1,253.1 314.5,238.6C324.9,224.0 335.4,204.5 345.8,188.9C356.2,173.3 366.6,157.2 377.0,145.0C387.5,132.9 397.9,124.1 408.3,116.0C418.7,108.0 429.1,96.8 439.6,96.7C450.0,96.6 460.4,96.5 470.8,96.5C481.2,96.5 491.7,96.9 502.1,96.9C512.5,96.9 522.9,96.2 533.3,96.0C543.8,95.8 554.2,95.8 564.6,95.7"/>
<path d="M95.7,303.4C106.1,303.4 116.5,303.4 127.0,303.4C137.4,303.4 147.8,303.4 158.2,303.4C168.6,303.4 179.1,303.4 189.5,303.4C199.9,303.4 210.3,303.3 220.7,303.2C231.2,303.1 241.6,303.0 252.0,302.6C262.4,302.2 272.8,301.9 283.3,300.3C293.7,298.8 304.1,297.6 314.5,292.1C324.9,286.5 335.4,279.6 345.8,265.8C356.2,252.0 366.6,228.8 377.0,209.2C387.5,189.6 397.9,163.6 408.3,148.1C418.7,132.6 429.1,123.2 439.6,116.0C450.0,108.9 460.4,106.8 470.8,105.2C481.2,103.6 491.7,103.1 502.1,102.8C512.5,102.5 522.9,102.4 533.3,102.3C543.8,102.2 554.2,102.2 564.6,102.1"/>
<path d="M95.7,297.4C106.1,297.4 116.5,297.4 127.0,297.4C137.4,297.4 147.8,297.4 158.2,297.4C168.6,297.4 179.1,297.4 189.5,297.3C199.9,297.3 210.3,297.3 220.7,297.2C231.2,297.1 241.6,297.0 252.0,296.6C262.4,296.2 272.8,295.8 283.3,294.1C293.7,292.5 304.1,291.0 314.5,284.7C324.9,278.4 335.4,269.2 345.8,254.5C356.2,239.8 366.6,214.5 377.0,196.5C387.5,178.5 397.9,158.6 408.3,146.7C418.7,134.7 429.1,128.7 439.6,124.7C450.0,120.8 460.4,118.8 470.8,118.8C481.2,118.8 491.7,119.1 502.1,119.3C512.5,119.6 522.9,120.2 533.3,120.3C543.8,120.4 554.2,120.4 564.6,120.5"/>
<path d="M95.7,266.4C106.1,263.9 116.5,261.0 127.0,259.1C137.4,257.1 147.8,256.5 158.2,254.5C168.6,252.5 179.1,249.4 189.5,247.3C199.9,245.2 210.3,243.6 220.7,241.7C231.2,239.8 241.6,238.8 252.0,235.9C262.4,232.9 272.8,228.0 283.3,223.9C293.7,219.8 304.1,217.0 314.5,211.3C324.9,205.5 335.4,196.2 345.8,189.2C356.2,182.2 366.6,175.5 377.0,169.1C387.5,162.8 397.9,156.7 408.3,151.0C418.7,145.3 429.1,139.3 439.6,134.8C450.0,130.4 460.4,126.9 470.8,124.3C481.2,121.7 491.7,121.0 502.1,119.2C512.5,117.4 522.9,115.4 533.3,113.5C543.8,111.7 554.2,109.8 564.6,108.0"/>
<path d="M95.7,257.3C106.1,255.2 116.5,253.4 127.0,251.0C137.4,248.5 147.8,244.8 158.2,242.7C168.6,240.6 179.1,240.5 189.5,238.3C199.9,236.1 210.3,232.0 220.7,229.5C231.2,227.0 241.6,226.5 252.0,223.5C262.4,220.5 272.8,216.2 283.3,211.7C293.7,207.1 304.1,202.8 314.5,196.2C324.9,189.5 335.4,180.1 345.8,171.9C356.2,163.7 366.6,154.2 377.0,146.9C387.5,139.6 397.9,134.2 408.3,128.2C418.7,122.1 429.1,115.2 439.6,110.6C450.0,106.0 460.4,103.4 470.8,100.9C481.2,98.3 491.7,97.1 502.1,95.3C512.5,93.6 522.9,91.6 533.3,90.3C543.8,89.0 554.2,88.5 564.6,87.7"/>
<path d="M95.7,269.6C106.1,267.3 116.5,264.7 127.0,262.7C137.4,260.7 147.8,259.4 158.2,257.6C168.6,255.8 179.1,254.1 189.5,252.2C199.9,250.2 210.3,247.8 220.7,245.8C231.2,243.7 241.6,242.5 252.0,239.8C262.4,237.2 272.8,234.0 283.3,230.0C293.7,225.9 304.1,221.3 314.5,215.6C324.9,210.0 335.4,202.4 345.8,196.0C356.2,189.6 366.6,183.4 377.0,177.3C387.5,171.2 397.9,164.8 408.3,159.3C418.7,153.9 429.1,148.8 439.6,144.7C450.0,140.5 460.4,137.2 470.8,134.3C481.2,131.5 491.7,129.4 502.1,127.5C512.5,125.6 522.9,124.8 533.3,122.9C543.8,121.0 554.2,118.5 564.6,116.3"/>
<path d="M95.7,268.3C106.1,266.1 116.5,263.5 127.0,261.7C137.4,259.8 147.8,259.2 158.2,257.4C168.6,255.6 179.1,252.7 189.5,250.8C199.9,248.9 210.3,248.2 220.7,246.1C231.2,244.0 241.6,241.3 252.0,238.2C262.4,235.1 272.8,231.5 283.3,227.6C293.7,223.7 304.1,220.4 314.5,214.8C324.9,209.2 335.4,200.5 345.8,193.9C356.2,187.3 366.6,181.4 377.0,175.2C387.5,169.1 397.9,162.4 408.3,156.9C418.7,151.4 429.1,146.3 439.6,142.3C450.0,138.2 460.4,135.6 470.8,132.9C481.2,130.1 491.7,128.3 502.1,126.0C512.5,123.8 522.9,121.3 533.3,119.4C543.8,117.4 554.2,116.0 564.6,114.4"/>
<path d="M95.7,263.1C106.1,261.6 116.5,260.5 127.0,258.4C137.4,256.4 147.8,252.9 158.2,250.6C168.6,248.3 179.1,246.7 189.5,244.6C199.9,242.4 210.3,239.7 220.7,237.5C231.2,235.2 241.6,233.8 252.0,231.1C262.4,228.4 272.8,225.3 283.3,221.3C293.7,217.2 304.1,212.9 314.5,206.8C324.9,200.6 335.4,191.5 345.8,184.4C356.2,177.3 366.6,171.0 377.0,164.3C387.5,157.7 397.9,150.4 408.3,144.6C418.7,138.9 429.1,133.8 439.6,129.7C450.0,125.7 460.4,123.0 470.8,120.4C481.2,117.7 491.7,116.0 502.1,113.8C512.5,111.5 522.9,108.4 533.3,106.8C543.8,105.1 554.2,104.9 564.6,104.0"/>
<path d="M95.7,266.7C106.1,264.3 116.5,261.4 127.0,259.6C137.4,257.7 147.8,257.4 158.2,255.6C168.6,253.8 179.1,250.9 189.5,248.8C199.9,246.6 210.3,244.8 220.7,242.6C231.2,240.3 241.6,238.2 252.0,235.2C262.4,232.2 272.8,228.7 283.3,224.7C293.7,220.7 304.1,216.5 314.5,211.0C324.9,205.5 335.4,198.5 345.8,191.8C356.2,185.1 366.6,177.2 377.0,170.7C387.5,164.3 397.9,158.8 408.3,153.1C418.7,147.4 429.1,140.9 439.6,136.6C450.0,132.2 460.4,129.4 470.8,126.9C481.2,124.5 491.7,123.7 502.1,122.0C512.5,120.2 522.9,118.1 533.3,116.4C543.8,114.7 554.2,113.2 564.6,111.6"/>
<path d="M95.7,266.7C106.1,264.6 116.5,262.4 127.0,260.5C137.4,258.6 147.8,257.1 158.2,255.4C168.6,253.7 179.1,252.2 189.5,250.1C199.9,248.1 210.3,245.4 220.7,243.2C231.2,240.9 241.6,239.7 252.0,236.8C262.4,233.9 272.8,229.9 283.3,225.6C293.7,221.4 304.1,216.8 314.5,211.1C324.9,205.3 335.4,197.8 345.8,191.1C356.2,184.4 366.6,177.3 377.0,171.0C387.5,164.6 397.9,158.5 408.3,152.9C418.7,147.4 429.1,141.5 439.6,137.6C450.0,133.8 460.4,132.6 470.8,129.8C481.2,126.9 491.7,123.0 502.1,120.6C512.5,118.2 522.9,117.1 533.3,115.4C543.8,113.7 554.2,112.1 564.6,110.5"/>
<path d="M95.7,259.7C106.1,257.5 116.5,255.1 127.0,253.1C137.4,251.0 147.8,249.5 158.2,247.2C168.6,244.9 179.1,241.5 189.5,239.3C199.9,237.1 210.3,236.2 220.7,234.2C231.2,232.1 241.6,230.1 252.0,226.9C262.4,223.6 272.8,219.2 283.3,214.7C293.7,210.1 304.1,206.1 314.5,199.6C324.9,193.2 335.4,183.7 345.8,176.1C356.2,168.4 366.6,160.7 377.0,153.7C387.5,146.7 397.9,140.1 408.3,134.1C418.7,128.0 429.1,121.8 439.6,117.4C450.0,113.1 460.4,110.7 470.8,108.0C481.2,105.2 491.7,102.8 502.1,100.9C512.5,99.1 522.9,98.7 533.3,97.0C543.8,95.3 554.2,92.9 564.6,90.8"/>
<path d="M95.7,262.6C106.1,260.4 116.5,258.2 127.0,256.0C137.4,253.8 147.8,251.6 158.2,249.4C168.6,247.2 179.1,245.0 189.5,243.0C199.9,241.0 210.3,239.7 220.7,237.2C231.2,234.8 241.6,231.8 252.0,228.4C262.4,224.9 272.8,220.7 283.3,216.5C293.7,212.4 304.1,209.2 314.5,203.2C324.9,197.3 335.4,188.2 345.8,180.9C356.2,173.6 366.6,166.4 377.0,159.6C387.5,152.9 397.9,146.4 408.3,140.5C418.7,134.5 429.1,128.3 439.6,123.9C450.0,119.6 460.4,117.5 470.8,114.6C481.2,111.7 491.7,108.5 502.1,106.6C512.5,104.7 522.9,104.5 533.3,103.3C543.8,102.1 554.2,100.7 564.6,99.4"/>
<path d="M95.7,257.3C106.1,255.4 116.5,253.8 127.0,251.6C137.4,249.3 147.8,246.0 158.2,243.8C168.6,241.6 179.1,240.6 189.5,238.3C199.9,236.1 210.3,233.1 220.7,230.3C231.2,227.5 241.6,225.1 252.0,221.7C262.4,218.3 272.8,214.3 283.3,209.8C293.7,205.3 304.1,200.9 314.5,194.6C324.9,188.3 335.4,179.7 345.8,171.9C356.2,164.2 366.6,155.2 377.0,147.9C387.5,140.6 397.9,134.4 408.3,128.1C418.7,121.8 429.1,114.5 439.6,110.0C450.0,105.5 460.4,103.6 470.8,101.0C481.2,98.4 491.7,95.9 502.1,94.2C512.5,92.5 522.9,91.9 533.3,90.7C543.8,89.5 554.2,88.3 564.6,87.1"/>
<path d="M95.7,258.0C106.1,255.9 116.5,253.8 127.0,251.7C137.4,249.6 147.8,247.4 158.2,245.2C168.6,243.0 179.1,240.8 189.5,238.6C199.9,236.4 210.3,234.3 220.7,232.2C231.2,230.1 241.6,229.3 252.0,226.2C262.4,223.1 272.8,218.2 283.3,213.6C293.7,209.0 304.1,205.0 314.5,198.8C324.9,192.6 335.4,184.1 345.8,176.5C356.2,168.9 366.6,160.6 377.0,153.3C387.5,146.0 397.9,139.0 408.3,132.9C418.7,126.7 429.1,121.1 439.6,116.6C450.0,112.1 460.4,108.9 470.8,105.9C481.2,103.0 491.7,100.7 502.1,98.9C512.5,97.2 522.9,96.9 533.3,95.4C543.8,94.0 554.2,91.9 564.6,90.2"/>
<path d="M95.7,255.8C106.1,254.0 116.5,252.4 127.0,250.5C137.4,248.5 147.8,246.3 158.2,244.0C168.6,241.8 179.1,239.5 189.5,237.2C199.9,235.0 210.3,232.9 220.7,230.5C231.2,228.1 241.6,226.4 252.0,223.0C262.4,219.5 272.8,214.6 283.3,209.6C293.7,204.7 304.1,199.9 314.5,193.2C324.9,186.5 335.4,177.2 345.8,169.4C356.2,161.6 366.6,153.7 377.0,146.4C387.5,139.1 397.9,131.8 408.3,125.5C418.7,119.2 429.1,112.6 439.6,108.5C450.0,104.4 460.4,103.3 470.8,100.7C481.2,98.1 491.7,95.2 502.1,93.1C512.5,91.0 522.9,89.4 533.3,87.9C543.8,86.5 554.2,85.6 564.6,84.4"/>
<path d="M95.7,260.1C106.1,258.1 116.5,256.6 127.0,254.3C137.4,252.0 147.8,248.4 158.2,246.2C168.6,244.0 179.1,243.0 189.5,240.8C199.9,238.7 210.3,235.7 220.7,233.1C231.2,230.6 241.6,228.5 252.0,225.5C262.4,222.5 272.8,219.4 283.3,215.2C293.7,211.0 304.1,206.7 314.5,200.2C324.9,193.6 335.4,183.6 345.8,175.9C356.2,168.1 366.6,160.3 377.0,153.5C387.5,146.8 397.9,141.1 408.3,135.4C418.7,129.7 429.1,123.6 439.6,119.3C450.0,115.0 460.4,112.7 470.8,109.7C481.2,106.7 491.7,103.5 502.1,101.3C512.5,99.2 522.9,97.9 533.3,96.7C543.8,95.6 554.2,95.1 564.6,94.3"/>
<path d="M95.7,257.8C106.1,255.9 116.5,253.9 127.0,252.0C137.4,250.1 147.8,248.3 158.2,246.2C168.6,244.0 179.1,241.2 189.5,239.0C199.9,236.9 210.3,235.6 220.7,233.5C231.2,231.4 241.6,230.0 252.0,226.5C262.4,222.9 272.8,216.9 283.3,212.1C293.7,207.3 304.1,203.9 314.5,197.7C324.9,191.5 335.4,182.6 345.8,174.8C356.2,166.9 366.6,157.7 377.0,150.5C387.5,143.4 397.9,137.9 408.3,131.9C418.7,125.9 429.1,119.0 439.6,114.5C450.0,110.0 460.4,107.4 470.8,105.0C481.2,102.7 491.7,101.9 502.1,100.3C512.5,98.7 522.9,96.9 533.3,95.4C543.8,93.9 554.2,92.7 564.6,91.3"/>
<path d="M95.7,266.3C106.1,264.6 116.5,263.1 127.0,261.2C137.4,259.3 147.8,256.8 158.2,254.9C168.6,253.0 179.1,251.9 189.5,249.7C199.9,247.5 210.3,243.9 220.7,241.8C231.2,239.6 241.6,239.3 252.0,236.7C262.4,234.0 272.8,229.9 283.3,225.8C293.7,221.6 304.1,217.8 314.5,211.9C324.9,206.0 335.4,197.2 345.8,190.4C356.2,183.6 366.6,177.4 377.0,171.0C387.5,164.5 397.9,157.4 408.3,151.9C418.7,146.4 429.1,141.8 439.6,137.8C450.0,133.9 460.4,131.0 470.8,128.3C481.2,125.5 491.7,123.2 502.1,121.3C512.5,119.4 522.9,118.7 533.3,117.1C543.8,115.4 554.2,113.3 564.6,111.4"/>
<path d="M95.7,268.5C106.1,265.9 116.5,262.7 127.0,260.6C137.4,258.6 147.8,258.2 158.2,256.4C168.6,254.6 179.1,251.9 189.5,249.7C199.9,247.6 210.3,245.3 220.7,243.3C231.2,241.2 241.6,239.9 252.0,237.2C262.4,234.6 272.8,231.3 283.3,227.3C293.7,223.3 304.1,219.1 314.5,213.4C324.9,207.7 335.4,199.8 345.8,192.9C356.2,186.0 366.6,178.0 377.0,171.9C387.5,165.8 397.9,161.4 408.3,156.1C418.7,150.7 429.1,144.0 439.6,139.9C450.0,135.7 460.4,133.8 470.8,131.2C481.2,128.6 491.7,126.4 502.1,124.1C512.5,121.7 522.9,119.0 533.3,117.2C543.8,115.4 554.2,114.5 564.6,113.2"/>
<path d="M95.7,327.6C106.1,327.4 116.5,327.2 127.0,327.0C137.4,326.8 147.8,326.6 158.2,326.4C168.6,326.2 179.1,326.0 189.5,325.9C199.9,325.7 210.3,325.6 220.7,325.4C231.2,325.3 241.6,325.1 252.0,324.9C262.4,324.8 272.8,324.5 283.3,324.3C293.7,324.1 304.1,323.9 314.5,323.8C324.9,323.6 335.4,323.5 345.8,323.3C356.2,323.2 366.6,323.2 377.0,323.0C387.5,322.8 397.9,322.6 408.3,321.7C418.7,320.8 429.1,318.1 439.6,315.6C450.0,313.2 460.4,310.5 470.8,307.0C481.2,303.5 491.7,298.5 502.1,294.5C512.5,290.6 522.9,286.6 533.3,283.1C543.8,279.5 554.2,276.5 564.6,273.3"/>
<path d="M95.7,326.3C106.1,326.2 116.5,326.0 127.0,325.8C137.4,325.6 147.8,325.5 158.2,325.3C168.6,325.1 179.1,325.0 189.5,324.8C199.9,324.7 210.3,324.6 220.7,324.4C231.2,324.3 241.6,324.2 252.0,324.0C262.4,323.9 272.8,323.7 283.3,323.5C293.7,323.3 304.1,323.1 314.5,323.0C324.9,322.8 335.4,322.7 345.8,322.6C356.2,322.5 366.6,322.6 377.0,322.4C387.5,322.2 397.9,322.0 408.3,321.1C418.7,320.3 429.1,317.6 439.6,315.2C450.0,312.7 460.4,310.1 470.8,306.6C481.2,303.1 491.7,298.2 502.1,294.2C512.5,290.3 522.9,286.4 533.3,282.8C543.8,279.3 554.2,276.3 564.6,273.1"/>
<path d="M95.7,325.4C106.1,325.2 116.5,325.1 127.0,324.9C137.4,324.7 147.8,324.6 158.2,324.4C168.6,324.3 179.1,324.1 189.5,324.0C199.9,323.9 210.3,323.8 220.7,323.7C231.2,323.6 241.6,323.5 252.0,323.3C262.4,323.2 272.8,323.0 283.3,322.9C293.7,322.7 304.1,322.5 314.5,322.4C324.9,322.3 335.4,322.2 345.8,322.1C356.2,322.0 366.6,322.0 377.0,321.9C387.5,321.8 397.9,321.5 408.3,320.7C418.7,319.9 429.1,317.2 439.6,314.8C450.0,312.4 460.4,309.7 470.8,306.3C481.2,302.8 491.7,297.9 502.1,294.0C512.5,290.0 522.9,286.1 533.3,282.6C543.8,279.1 554.2,276.2 564.6,272.9"/>
<path d="M95.7,328.3C106.1,328.1 116.5,327.9 127.0,327.7C137.4,327.5 147.8,327.3 158.2,327.1C168.6,326.9 179.1,326.7 189.5,326.5C199.9,326.3 210.3,326.2 220.7,326.0C231.2,325.8 241.6,325.7 252.0,325.5C262.4,325.3 272.8,325.1 283.3,324.8C293.7,324.6 304.1,324.4 314.5,324.2C324.9,324.0 335.4,323.9 345.8,323.7C356.2,323.6 366.6,323.6 377.0,323.4C387.5,323.1 397.9,322.9 408.3,322.0C418.7,321.1 429.1,318.4 439.6,315.9C450.0,313.4 460.4,310.7 470.8,307.2C481.2,303.7 491.7,298.7 502.1,294.7C512.5,290.7 522.9,286.8 533.3,283.2C543.8,279.7 554.2,276.7 564.6,273.4"/>
<path d="M95.7,327.3C106.1,327.1 116.5,326.9 127.0,326.7C137.4,326.5 147.8,326.3 158.2,326.1C168.6,325.9 179.1,325.8 189.5,325.6C199.9,325.4 210.3,325.3 220.7,325.2C231.2,325.0 241.6,324.9 252.0,324.7C262.4,324.5 272.8,324.3 283.3,324.1C293.7,323.9 304.1,323.7 314.5,323.6C324.9,323.4 335.4,323.3 345.8,323.2C356.2,323.0 366.6,323.0 377.0,322.8C387.5,322.6 397.9,322.4 408.3,321.5C418.7,320.7 429.1,318.0 439.6,315.5C450.0,313.1 460.4,310.4 470.8,306.9C481.2,303.4 491.7,298.4 502.1,294.5C512.5,290.5 522.9,286.6 533.3,283.0C543.8,279.5 554.2,276.5 564.6,273.2"/>
</g>
<defs><linearGradient id="bg1" gradientUnits="userSpaceOnUse" x1="96" y1="0" x2="360" y2="0"><stop offset="0" stop-color="#e0e4eb"/><stop offset="1" stop-color="#d9dfe8"/></linearGradient></defs>
<path d="M95.7,326.1L102.0,326.0L108.2,325.9L114.5,325.8L120.7,325.7L127.0,325.6L133.2,325.5L139.5,325.4L145.7,325.3L152.0,325.2L158.2,325.1L164.5,325.0L170.7,324.9L177.0,324.8L183.2,324.7L189.5,324.6L195.7,324.5L202.0,324.5L208.2,324.4L214.5,324.3L220.7,324.2L227.0,324.2L233.2,324.1L239.5,324.0L245.7,323.9L252.0,323.9L258.3,323.8L264.5,323.7L270.8,323.5L277.0,323.4L283.3,323.3L289.5,323.2L295.8,323.1L302.0,323.0L308.3,322.9L314.5,322.8L320.8,322.7L327.0,322.6L333.3,322.6L339.5,322.5L345.8,322.5L352.0,322.5L358.3,322.4L364.5,322.4L370.8,322.3L377.0,322.3L383.3,322.2L389.5,322.1L395.8,322.0L402.0,321.7L408.3,321.0L414.6,320.3L420.8,319.3L427.1,317.9L433.3,316.6L439.6,315.1L445.8,313.5L452.1,311.9L458.3,310.2L464.6,308.3L470.8,306.5L477.1,304.3L483.3,302.2L489.6,299.8L495.8,297.0L502.1,294.1L508.3,291.6L514.6,289.3L520.8,287.0L527.1,284.9L533.3,282.8L539.6,280.7L545.8,278.5L552.1,276.6L558.3,274.8L564.6,273.0L564.6,98.7L558.3,99.5L552.1,100.4L545.8,101.2L539.6,102.1L533.3,102.9L527.1,103.8L520.8,104.6L514.6,105.6L508.3,106.8L502.1,108.0L495.8,109.1L489.6,110.3L483.3,111.5L477.1,112.7L470.8,114.6L464.6,116.5L458.3,118.4L452.1,120.3L445.8,122.2L439.6,124.1L433.3,127.3L427.1,130.4L420.8,133.6L414.6,136.8L408.3,140.0L402.0,143.8L395.8,147.6L389.5,151.4L383.3,155.2L377.0,159.0L370.8,163.5L364.5,167.9L358.3,172.4L352.0,176.8L345.8,181.3L339.5,185.7L333.3,190.1L327.0,194.6L320.8,199.0L314.5,203.5L308.3,206.4L302.0,209.3L295.8,212.2L289.5,215.2L283.3,218.1L277.0,220.4L270.8,222.7L264.5,225.0L258.3,227.2L252.0,229.5L245.7,230.9L239.5,232.3L233.2,233.7L227.0,235.1L220.7,236.5L214.5,237.8L208.2,239.1L202.0,240.3L195.7,241.6L189.5,242.9L183.2,244.1L177.0,245.4L170.7,246.7L164.5,247.9L158.2,249.2L152.0,250.5L145.7,251.8L139.5,253.0L133.2,254.3L127.0,255.6L120.7,256.8L114.5,258.1L108.2,259.4L102.0,260.7L95.7,261.9Z" fill="url(#bg1)"/>
<g fill="none" stroke="#e8ebf3" stroke-linecap="round">
<path d="M508.0,131.3L510.8,129.8L513.7,128.4L516.5,126.9L519.4,125.5" stroke-width="1.3" stroke-opacity="0.36"/>
<path d="M427.2,160.6L430.2,158.8L433.2,157.0L436.2,155.2L439.1,153.4" stroke-width="0.9" stroke-opacity="0.52"/>
<path d="M424.4,226.3L430.4,223.3L436.3,220.3L442.2,217.6L448.1,215.1" stroke-width="2.4" stroke-opacity="0.51"/>
<path d="M251.1,242.8L256.9,240.4L262.6,237.9L268.3,235.3L274.0,232.7" stroke-width="1.1" stroke-opacity="0.46"/>
<path d="M412.6,274.0L421.1,268.5L429.7,262.4L438.2,256.2L446.7,250.3" stroke-width="1.0" stroke-opacity="0.38"/>
<path d="M293.1,224.7L309.1,214.0L325.1,200.3L341.1,184.7L357.1,168.3" stroke-width="1.3" stroke-opacity="0.44"/>
<path d="M180.2,293.8L185.4,293.0L190.6,292.1L195.8,291.2L201.0,290.4" stroke-width="1.1" stroke-opacity="0.35"/>
<path d="M292.4,319.2L300.7,318.0L309.0,316.7L317.3,315.3L325.6,313.8" stroke-width="2.1" stroke-opacity="0.76"/>
<path d="M185.6,321.8L189.2,321.4L192.8,321.1L196.4,320.7L200.0,320.3" stroke-width="2.2" stroke-opacity="0.37"/>
<path d="M471.1,281.2L478.5,275.7L486.0,270.4L493.4,264.5L500.9,258.6" stroke-width="1.2" stroke-opacity="0.72"/>
<path d="M128.6,304.8L135.4,303.5L142.2,302.2L149.0,300.8L155.8,299.4" stroke-width="1.3" stroke-opacity="0.49"/>
<path d="M437.4,311.4L450.9,306.0L464.4,300.2L477.9,293.9L491.3,287.0" stroke-width="1.6" stroke-opacity="0.83"/>
<path d="M140.0,264.4L144.0,263.6L147.9,262.7L151.8,261.8L155.7,260.9" stroke-width="2.1" stroke-opacity="0.72"/>
<path d="M464.3,236.1L467.6,234.0L471.0,231.8L474.3,229.5L477.7,227.3" stroke-width="0.9" stroke-opacity="0.45"/>
<path d="M265.4,289.3L267.2,288.6L268.9,288.0L270.7,287.4L272.4,286.7" stroke-width="2.2" stroke-opacity="0.84"/>
<path d="M197.6,287.3L201.9,286.6L206.2,285.9L210.5,285.2L214.8,284.5" stroke-width="1.5" stroke-opacity="0.66"/>
<path d="M433.9,170.6L447.7,163.4L461.4,157.0L475.2,150.4L489.0,144.9" stroke-width="1.7" stroke-opacity="0.54"/>
<path d="M244.6,249.3L247.5,248.3L250.4,247.4L253.3,246.3L256.2,245.1" stroke-width="1.3" stroke-opacity="0.55"/>
<path d="M150.2,258.8L156.2,257.5L162.2,256.2L168.2,254.8L174.2,253.5" stroke-width="1.6" stroke-opacity="0.76"/>
<path d="M519.1,244.6L522.3,242.4L525.4,240.2L528.6,238.0L531.8,235.9" stroke-width="1.7" stroke-opacity="0.82"/>
<path d="M500.9,135.1L503.9,134.2L506.9,133.2L509.9,132.3L512.8,131.4" stroke-width="1.8" stroke-opacity="0.66"/>
<path d="M310.3,255.8L312.9,254.6L315.6,253.2L318.3,251.5L321.0,249.9" stroke-width="1.1" stroke-opacity="0.36"/>
<path d="M428.1,180.2L431.4,177.9L434.7,175.7L437.9,173.4L441.2,171.3" stroke-width="0.9" stroke-opacity="0.40"/>
<path d="M381.3,214.4L383.3,213.2L385.4,212.0L387.4,210.8L389.5,209.6" stroke-width="1.3" stroke-opacity="0.50"/>
<path d="M132.0,269.5L135.5,268.4L139.1,267.2L142.6,266.1L146.1,264.9" stroke-width="1.4" stroke-opacity="0.45"/>
<path d="M239.2,255.1L245.7,253.3L252.2,251.5L258.7,248.9L265.2,246.4" stroke-width="2.2" stroke-opacity="0.58"/>
<path d="M169.4,322.8L174.5,322.1L179.6,321.3L184.6,320.6L189.7,319.9" stroke-width="1.4" stroke-opacity="0.60"/>
<path d="M269.5,275.1L276.2,272.6L282.8,270.1L289.4,267.2L296.0,264.1" stroke-width="2.3" stroke-opacity="0.45"/>
<path d="M512.6,135.5L524.5,131.0L536.5,126.7L548.4,122.5L560.3,118.5" stroke-width="2.2" stroke-opacity="0.66"/>
<path d="M216.9,257.0L226.2,253.8L235.5,250.5L244.8,247.2L254.1,243.5" stroke-width="1.1" stroke-opacity="0.46"/>
<path d="M368.5,216.3L370.7,214.5L373.0,212.7L375.2,210.8L377.5,209.0" stroke-width="0.9" stroke-opacity="0.63"/>
<path d="M172.1,283.2L180.3,281.2L188.5,279.3L196.7,277.3L205.0,275.2" stroke-width="1.3" stroke-opacity="0.56"/>
<path d="M329.5,309.7L333.5,308.6L337.5,307.5L341.6,306.3L345.6,305.1" stroke-width="1.6" stroke-opacity="0.47"/>
<path d="M468.7,274.9L471.2,273.9L473.7,272.7L476.3,271.6L478.8,270.5" stroke-width="1.5" stroke-opacity="0.40"/>
<path d="M359.9,219.4L365.0,215.5L370.0,211.6L375.1,207.6L380.1,203.7" stroke-width="1.6" stroke-opacity="0.38"/>
<path d="M302.3,311.7L310.7,309.5L319.1,307.0L327.6,304.2L336.0,301.4" stroke-width="2.1" stroke-opacity="0.45"/>
<path d="M127.7,274.6L144.0,269.6L160.4,264.4L176.7,259.0L193.1,253.3" stroke-width="0.9" stroke-opacity="0.53"/>
<path d="M215.2,307.2L225.1,305.5L234.9,303.8L244.7,302.1L254.6,300.2" stroke-width="2.3" stroke-opacity="0.45"/>
<path d="M364.9,289.6L366.6,288.7L368.4,287.8L370.2,286.9L371.9,286.1" stroke-width="1.9" stroke-opacity="0.80"/>
<path d="M466.7,235.8L471.2,232.7L475.6,229.5L480.1,226.5L484.6,223.5" stroke-width="1.7" stroke-opacity="0.64"/>
<path d="M95.7,279.0L107.1,276.5L118.5,274.0L129.9,271.4L141.2,268.8" stroke-width="2.4" stroke-opacity="0.64"/>
<path d="M462.8,285.9L465.3,284.2L467.9,282.6L470.4,280.9L472.9,279.1" stroke-width="1.2" stroke-opacity="0.67"/>
<path d="M165.0,316.6L168.3,316.4L171.5,316.1L174.8,315.8L178.1,315.6" stroke-width="1.8" stroke-opacity="0.57"/>
<path d="M512.6,271.9L515.4,270.8L518.2,269.6L521.0,268.5L523.8,267.5" stroke-width="1.4" stroke-opacity="0.40"/>
<path d="M250.5,268.3L255.3,266.8L260.1,265.1L264.9,263.4L269.6,261.7" stroke-width="1.0" stroke-opacity="0.82"/>
<path d="M221.2,317.0L226.2,316.3L231.3,315.7L236.3,315.0L241.4,314.3" stroke-width="1.2" stroke-opacity="0.36"/>
<path d="M379.9,182.3L385.0,178.2L390.1,174.0L395.2,169.8L400.3,165.5" stroke-width="1.2" stroke-opacity="0.80"/>
<path d="M372.5,207.3L375.4,205.6L378.2,204.1L381.1,202.7L383.9,201.2" stroke-width="1.7" stroke-opacity="0.82"/>
<path d="M241.9,255.1L246.2,254.1L250.6,253.1L254.9,251.8L259.2,250.3" stroke-width="1.3" stroke-opacity="0.50"/>
<path d="M487.2,154.0L501.5,145.8L515.8,137.9L530.1,130.9L544.4,124.0" stroke-width="1.5" stroke-opacity="0.72"/>
<path d="M255.1,289.9L257.9,289.0L260.7,288.2L263.6,287.3L266.4,286.4" stroke-width="1.9" stroke-opacity="0.77"/>
<path d="M268.2,272.7L272.2,271.6L276.1,270.5L280.1,269.4L284.0,268.2" stroke-width="1.8" stroke-opacity="0.83"/>
<path d="M506.3,164.6L509.2,162.7L512.2,160.8L515.2,158.9L518.2,157.0" stroke-width="2.0" stroke-opacity="0.51"/>
<path d="M127.9,280.1L134.5,278.4L141.0,276.8L147.5,275.1L154.0,273.4" stroke-width="2.4" stroke-opacity="0.58"/>
<path d="M419.1,218.2L430.6,211.9L442.1,205.8L453.6,200.5L465.0,195.1" stroke-width="1.1" stroke-opacity="0.66"/>
<path d="M520.6,133.5L522.3,132.9L524.0,132.3L525.8,131.7L527.5,131.1" stroke-width="1.0" stroke-opacity="0.36"/>
<path d="M429.4,292.2L434.8,289.4L440.2,286.3L445.5,283.5L450.9,280.6" stroke-width="1.4" stroke-opacity="0.76"/>
<path d="M503.9,275.6L510.2,272.6L516.5,269.8L522.9,267.1L529.2,264.5" stroke-width="1.1" stroke-opacity="0.41"/>
<path d="M472.8,191.1L486.3,185.2L499.8,179.1L513.3,173.3L526.7,168.2" stroke-width="1.0" stroke-opacity="0.40"/>
<path d="M244.9,297.0L248.8,296.4L252.7,295.7L256.6,295.0L260.4,294.2" stroke-width="1.9" stroke-opacity="0.53"/>
<path d="M532.1,264.2L538.3,261.0L544.5,257.8L550.7,254.7L556.9,251.9" stroke-width="1.5" stroke-opacity="0.74"/>
<path d="M439.3,309.9L442.0,308.2L444.8,306.6L447.5,304.9L450.3,303.2" stroke-width="1.1" stroke-opacity="0.35"/>
<path d="M452.8,219.2L459.8,214.6L466.9,209.9L474.0,205.2L481.1,200.7" stroke-width="1.1" stroke-opacity="0.60"/>
<path d="M480.2,254.3L487.0,250.1L493.7,245.5L500.4,240.9L507.1,236.4" stroke-width="1.6" stroke-opacity="0.40"/>
<path d="M176.7,277.6L190.8,274.7L204.9,271.6L219.1,268.6L233.2,265.2" stroke-width="1.4" stroke-opacity="0.55"/>
<path d="M97.6,307.0L104.9,305.5L112.2,303.9L119.5,302.3L126.8,300.7" stroke-width="1.6" stroke-opacity="0.54"/>
<path d="M120.8,277.7L125.2,276.5L129.7,275.4L134.2,274.2L138.6,273.0" stroke-width="1.4" stroke-opacity="0.51"/>
<path d="M486.8,217.4L492.4,213.6L498.0,209.8L503.6,206.1L509.3,202.5" stroke-width="1.7" stroke-opacity="0.41"/>
<path d="M509.0,170.1L511.6,168.5L514.2,166.9L516.8,165.4L519.4,163.8" stroke-width="1.0" stroke-opacity="0.43"/>
<path d="M294.5,297.2L297.0,296.3L299.4,295.4L301.9,294.5L304.3,293.6" stroke-width="2.0" stroke-opacity="0.40"/>
<path d="M100.1,281.7L107.1,280.2L114.0,278.7L121.0,277.1L127.9,275.5" stroke-width="1.1" stroke-opacity="0.67"/>
<path d="M249.7,255.5L251.5,254.9L253.2,254.2L255.0,253.5L256.7,252.7" stroke-width="1.6" stroke-opacity="0.67"/>
<path d="M220.8,251.9L224.6,250.8L228.4,249.7L232.2,248.6L235.9,247.5" stroke-width="1.7" stroke-opacity="0.72"/>
<path d="M229.8,265.5L245.8,260.2L261.7,253.7L277.7,246.2L293.7,237.5" stroke-width="1.9" stroke-opacity="0.67"/>
<path d="M290.0,245.1L292.1,244.0L294.2,242.9L296.3,241.8L298.4,240.6" stroke-width="1.8" stroke-opacity="0.48"/>
<path d="M341.3,206.2L345.1,203.5L348.9,200.9L352.7,198.2L356.5,195.5" stroke-width="1.8" stroke-opacity="0.74"/>
<path d="M347.4,292.3L354.8,289.2L362.2,285.9L369.6,282.5L377.0,278.8" stroke-width="2.3" stroke-opacity="0.61"/>
<path d="M383.8,221.1L389.3,217.3L394.8,213.4L400.3,209.4L405.7,205.1" stroke-width="1.6" stroke-opacity="0.56"/>
<path d="M119.5,313.3L123.2,312.6L126.9,311.8L130.6,311.0L134.3,310.2" stroke-width="1.4" stroke-opacity="0.38"/>
<path d="M319.8,242.5L323.7,240.2L327.5,237.9L331.4,235.5L335.2,233.2" stroke-width="1.2" stroke-opacity="0.46"/>
<path d="M529.7,211.5L532.5,210.4L535.3,209.4L538.0,208.3L540.8,207.2" stroke-width="1.0" stroke-opacity="0.74"/>
<path d="M408.5,163.4L413.1,160.4L417.7,157.4L422.4,154.4L427.0,151.3" stroke-width="1.8" stroke-opacity="0.76"/>
<path d="M344.7,215.2L349.3,212.1L353.8,208.9L358.4,205.7L363.0,202.5" stroke-width="2.2" stroke-opacity="0.48"/>
<path d="M266.2,256.9L268.8,256.0L271.3,255.2L273.9,254.3L276.5,253.4" stroke-width="1.2" stroke-opacity="0.50"/>
<path d="M328.3,214.1L333.4,209.7L338.6,205.2L343.8,200.6L348.9,195.9" stroke-width="0.9" stroke-opacity="0.76"/>
<path d="M182.9,317.3L189.0,316.9L195.1,316.6L201.2,316.2L207.3,315.8" stroke-width="2.3" stroke-opacity="0.68"/>
<path d="M207.2,293.4L210.0,293.0L212.9,292.6L215.7,292.3L218.6,291.9" stroke-width="2.2" stroke-opacity="0.75"/>
<path d="M504.8,142.1L510.7,138.9L516.5,135.6L522.3,132.6L528.2,129.7" stroke-width="2.1" stroke-opacity="0.45"/>
<path d="M355.0,312.9L366.5,310.9L377.9,308.6L389.4,306.2L400.9,303.7" stroke-width="1.2" stroke-opacity="0.42"/>
<path d="M191.6,284.5L194.0,283.9L196.3,283.4L198.7,282.9L201.0,282.4" stroke-width="2.2" stroke-opacity="0.35"/>
<path d="M343.4,268.4L348.6,266.2L353.8,263.8L359.0,261.5L364.2,259.0" stroke-width="2.3" stroke-opacity="0.39"/>
<path d="M408.6,168.1L413.5,165.1L418.4,162.0L423.3,158.8L428.2,155.7" stroke-width="2.4" stroke-opacity="0.61"/>
<path d="M508.0,225.6L513.5,221.9L519.0,218.3L524.5,214.9L529.9,211.5" stroke-width="1.4" stroke-opacity="0.59"/>
<path d="M462.2,206.5L466.2,203.9L470.1,201.3L474.1,198.6L478.0,195.9" stroke-width="1.3" stroke-opacity="0.76"/>
<path d="M358.9,311.5L363.2,310.1L367.5,308.5L371.9,307.0L376.2,305.3" stroke-width="1.3" stroke-opacity="0.51"/>
<path d="M387.6,208.1L393.5,203.6L399.3,199.0L405.2,194.3L411.0,189.6" stroke-width="1.7" stroke-opacity="0.37"/>
<path d="M163.0,277.4L169.6,275.6L176.2,273.8L182.8,271.9L189.4,270.0" stroke-width="2.3" stroke-opacity="0.66"/>
<path d="M405.2,275.7L410.0,273.2L414.9,270.8L419.7,268.1L424.5,265.2" stroke-width="1.5" stroke-opacity="0.73"/>
<path d="M232.0,317.6L237.8,316.9L243.6,316.1L249.4,315.4L255.2,314.6" stroke-width="2.1" stroke-opacity="0.74"/>
<path d="M265.3,280.8L269.2,279.5L273.1,278.2L276.9,277.0L280.8,275.7" stroke-width="2.3" stroke-opacity="0.38"/>
<path d="M177.0,258.6L183.0,257.0L189.0,255.4L195.0,253.8L201.0,252.2" stroke-width="0.8" stroke-opacity="0.54"/>
<path d="M510.7,260.5L522.5,253.3L534.4,246.4L546.3,239.6L558.1,233.2" stroke-width="1.1" stroke-opacity="0.43"/>
<path d="M171.2,322.7L173.5,322.3L175.7,321.9L177.9,321.5L180.1,321.1" stroke-width="1.0" stroke-opacity="0.36"/>
<path d="M249.1,256.9L258.1,253.4L267.0,249.4L275.9,245.4L284.9,241.2" stroke-width="2.2" stroke-opacity="0.71"/>
<path d="M392.1,315.1L403.8,309.8L415.6,303.5L427.3,296.0L439.0,288.1" stroke-width="1.9" stroke-opacity="0.36"/>
<path d="M408.4,198.2L416.2,194.3L424.0,190.2L431.9,185.9L439.7,181.7" stroke-width="2.2" stroke-opacity="0.59"/>
<path d="M307.3,299.9L311.2,298.6L315.2,297.2L319.1,295.7L323.1,294.1" stroke-width="1.4" stroke-opacity="0.67"/>
<path d="M322.8,312.3L328.7,310.8L334.6,309.3L340.4,307.7L346.3,306.1" stroke-width="1.3" stroke-opacity="0.38"/>
<path d="M164.7,257.0L175.1,253.6L185.5,250.0L195.9,246.4L206.3,242.7" stroke-width="1.8" stroke-opacity="0.50"/>
<path d="M504.7,141.8L510.0,138.8L515.3,135.8L520.6,133.0L526.0,130.3" stroke-width="1.3" stroke-opacity="0.35"/>
<path d="M324.2,319.7L330.3,318.0L336.3,316.3L342.3,314.5L348.4,312.5" stroke-width="2.1" stroke-opacity="0.78"/>
<path d="M248.7,246.3L263.9,240.5L279.1,234.2L294.4,226.8L309.6,218.7" stroke-width="0.9" stroke-opacity="0.63"/>
<path d="M217.9,273.9L234.4,269.3L250.9,264.5L267.4,258.0L283.9,251.1" stroke-width="1.5" stroke-opacity="0.45"/>
<path d="M439.3,173.6L451.0,166.1L462.7,158.6L474.4,150.9L486.1,144.1" stroke-width="1.2" stroke-opacity="0.64"/>
<path d="M198.8,304.9L202.9,304.4L207.1,303.9L211.3,303.4L215.4,302.9" stroke-width="1.1" stroke-opacity="0.70"/>
<path d="M382.1,302.8L386.5,300.8L390.9,298.7L395.3,296.6L399.7,294.4" stroke-width="1.4" stroke-opacity="0.40"/>
<path d="M466.9,210.6L471.8,208.7L476.6,206.8L481.4,205.2L486.2,203.6" stroke-width="0.9" stroke-opacity="0.85"/>
<path d="M153.7,292.9L156.7,292.2L159.7,291.4L162.7,290.6L165.7,289.8" stroke-width="2.0" stroke-opacity="0.76"/>
<path d="M126.8,315.2L129.5,315.0L132.1,314.8L134.8,314.6L137.4,314.4" stroke-width="1.7" stroke-opacity="0.79"/>
<path d="M522.7,212.5L530.4,209.8L538.0,207.1L545.7,204.4L553.4,201.8" stroke-width="2.3" stroke-opacity="0.48"/>
<path d="M392.5,244.9L406.3,239.1L420.2,233.2L434.0,226.7L447.8,220.7" stroke-width="2.3" stroke-opacity="0.85"/>
<path d="M181.7,317.3L185.2,316.6L188.7,316.0L192.2,315.3L195.7,314.7" stroke-width="0.9" stroke-opacity="0.74"/>
<path d="M407.3,194.9L414.9,188.9L422.5,182.8L430.1,176.5L437.7,170.1" stroke-width="1.9" stroke-opacity="0.50"/>
<path d="M458.6,275.2L461.9,273.4L465.3,271.7L468.6,269.9L471.9,268.0" stroke-width="1.1" stroke-opacity="0.47"/>
<path d="M423.4,298.3L428.9,294.8L434.4,291.2L439.9,287.5L445.4,283.8" stroke-width="1.2" stroke-opacity="0.82"/>
<path d="M199.5,254.1L203.5,252.7L207.5,251.4L211.5,250.0L215.5,248.6" stroke-width="1.8" stroke-opacity="0.58"/>
<path d="M480.3,253.2L485.3,251.2L490.3,249.1L495.3,246.8L500.3,244.5" stroke-width="1.9" stroke-opacity="0.63"/>
<path d="M501.0,238.3L504.8,235.5L508.6,232.9L512.5,230.4L516.3,227.8" stroke-width="1.3" stroke-opacity="0.43"/>
<path d="M279.8,320.8L288.0,318.8L296.1,316.7L304.3,314.4L312.5,312.1" stroke-width="1.9" stroke-opacity="0.46"/>
<path d="M278.6,230.9L281.2,229.4L283.9,227.9L286.6,226.1L289.2,224.3" stroke-width="2.3" stroke-opacity="0.40"/>
<path d="M507.4,128.7L512.9,127.2L518.4,125.7L524.0,124.5L529.5,123.3" stroke-width="2.1" stroke-opacity="0.52"/>
<path d="M149.8,292.7L162.2,289.6L174.6,286.3L187.0,282.9L199.4,279.4" stroke-width="1.1" stroke-opacity="0.64"/>
<path d="M214.6,311.8L228.8,310.5L243.1,309.3L257.4,307.8L271.6,306.0" stroke-width="1.8" stroke-opacity="0.60"/>
<path d="M242.2,272.5L247.6,271.4L253.1,270.3L258.5,268.7L263.9,267.2" stroke-width="0.9" stroke-opacity="0.72"/>
<path d="M439.3,168.0L445.3,164.0L451.3,160.0L457.3,155.9L463.3,151.8" stroke-width="1.6" stroke-opacity="0.36"/>
<path d="M139.1,270.3L148.8,268.0L158.6,265.7L168.3,263.3L178.0,261.0" stroke-width="1.1" stroke-opacity="0.54"/>
<path d="M167.6,311.0L171.6,310.3L175.6,309.6L179.6,308.8L183.6,308.1" stroke-width="2.1" stroke-opacity="0.78"/>
<path d="M436.0,164.7L441.6,160.2L447.3,156.2L453.0,152.1L458.6,148.1" stroke-width="1.6" stroke-opacity="0.61"/>
<path d="M366.7,286.6L373.6,284.8L380.5,283.1L387.3,281.4L394.2,279.7" stroke-width="1.2" stroke-opacity="0.76"/>
<path d="M205.7,275.9L208.3,275.3L210.9,274.6L213.6,274.0L216.2,273.3" stroke-width="1.6" stroke-opacity="0.70"/>
<path d="M493.2,206.8L500.7,202.6L508.2,198.5L515.7,194.7L523.2,191.0" stroke-width="1.2" stroke-opacity="0.41"/>
<path d="M214.0,276.8L220.2,275.1L226.5,273.3L232.8,271.5L239.1,269.6" stroke-width="1.1" stroke-opacity="0.76"/>
<path d="M135.8,296.4L142.0,294.9L148.1,293.4L154.3,291.8L160.4,290.2" stroke-width="2.0" stroke-opacity="0.52"/>
<path d="M288.8,234.0L295.8,229.8L302.7,225.6L309.6,221.3L316.6,216.4" stroke-width="2.2" stroke-opacity="0.38"/>
<path d="M523.0,177.3L532.6,173.5L542.1,169.7L551.7,166.0L561.3,162.5" stroke-width="1.6" stroke-opacity="0.38"/>
<path d="M363.3,309.8L365.6,308.9L367.9,307.9L370.3,307.0L372.6,306.0" stroke-width="1.8" stroke-opacity="0.75"/>
<path d="M196.9,271.6L202.0,270.6L207.0,269.5L212.1,268.5L217.2,267.4" stroke-width="1.7" stroke-opacity="0.81"/>
<path d="M262.3,319.5L266.3,319.0L270.2,318.5L274.1,318.0L278.1,317.5" stroke-width="1.8" stroke-opacity="0.41"/>
<path d="M535.4,189.2L538.4,188.1L541.5,187.1L544.5,186.1L547.5,185.0" stroke-width="1.0" stroke-opacity="0.42"/>
<path d="M324.4,256.0L327.3,254.2L330.2,252.4L333.1,250.5L336.0,248.6" stroke-width="1.8" stroke-opacity="0.64"/>
<path d="M227.8,272.2L239.5,269.3L251.2,266.3L262.9,262.3L274.6,258.1" stroke-width="1.3" stroke-opacity="0.47"/>
<path d="M361.4,266.2L366.1,263.5L370.9,260.7L375.7,257.8L380.4,255.0" stroke-width="1.2" stroke-opacity="0.63"/>
<path d="M263.3,303.0L273.3,301.7L283.4,300.3L293.4,298.6L303.4,296.9" stroke-width="2.2" stroke-opacity="0.57"/>
<path d="M311.8,291.6L317.4,289.2L323.0,286.5L328.6,283.8L334.2,280.9" stroke-width="2.0" stroke-opacity="0.43"/>
<path d="M299.5,238.3L304.4,235.8L309.4,233.2L314.3,230.7L319.2,227.2" stroke-width="2.0" stroke-opacity="0.72"/>
<path d="M328.1,318.7L342.3,314.4L356.6,309.5L370.8,304.0L385.0,298.0" stroke-width="0.8" stroke-opacity="0.73"/>
<path d="M339.6,223.6L352.4,213.3L365.3,202.4L378.1,191.2L391.0,180.5" stroke-width="1.8" stroke-opacity="0.54"/>
<path d="M329.9,253.0L339.9,247.7L349.9,242.2L359.9,236.7L369.9,230.9" stroke-width="1.3" stroke-opacity="0.74"/>
<path d="M360.8,292.2L363.4,291.3L365.9,290.3L368.5,289.4L371.1,288.4" stroke-width="1.7" stroke-opacity="0.39"/>
<path d="M109.3,323.4L124.9,321.8L140.4,320.1L156.0,318.4L171.5,316.5" stroke-width="2.3" stroke-opacity="0.36"/>
<path d="M377.9,236.8L384.5,232.2L391.1,227.5L397.7,222.7L404.3,217.5" stroke-width="1.6" stroke-opacity="0.61"/>
<path d="M314.0,220.7L318.8,216.9L323.6,213.0L328.4,209.0L333.3,204.9" stroke-width="1.6" stroke-opacity="0.40"/>
<path d="M318.6,310.9L323.3,309.8L328.0,308.6L332.7,307.4L337.4,306.2" stroke-width="1.5" stroke-opacity="0.66"/>
<path d="M130.7,301.4L136.7,300.0L142.7,298.5L148.8,297.0L154.8,295.5" stroke-width="2.1" stroke-opacity="0.61"/>
<path d="M505.7,275.7L511.7,272.3L517.8,268.9L523.8,265.7L529.9,262.6" stroke-width="1.1" stroke-opacity="0.49"/>
<path d="M362.9,234.3L365.4,232.9L368.0,231.4L370.5,229.9L373.1,228.5" stroke-width="2.4" stroke-opacity="0.67"/>
<path d="M311.7,313.1L321.9,311.2L332.0,309.2L342.2,307.2L352.3,305.0" stroke-width="2.1" stroke-opacity="0.64"/>
<path d="M240.3,267.9L244.9,266.7L249.5,265.5L254.1,264.1L258.6,262.4" stroke-width="2.4" stroke-opacity="0.64"/>
<path d="M209.1,310.5L214.8,310.0L220.6,309.4L226.3,308.8L232.0,308.2" stroke-width="1.6" stroke-opacity="0.76"/>
<path d="M480.7,237.2L482.4,236.2L484.0,235.2L485.6,234.2L487.2,233.2" stroke-width="1.4" stroke-opacity="0.43"/>
<path d="M186.2,288.2L199.1,285.8L212.1,283.3L225.0,280.8L238.0,278.0" stroke-width="0.9" stroke-opacity="0.80"/>
<path d="M532.9,262.0L537.9,258.6L542.8,255.2L547.8,251.8L552.7,248.6" stroke-width="2.2" stroke-opacity="0.51"/>
<path d="M189.2,319.7L194.0,318.8L198.9,317.8L203.7,316.8L208.6,315.7" stroke-width="1.2" stroke-opacity="0.54"/>
<path d="M246.3,255.9L252.6,254.3L259.0,252.1L265.3,249.9L271.7,247.6" stroke-width="1.1" stroke-opacity="0.53"/>
<path d="M538.1,188.5L542.8,186.6L547.4,184.6L552.0,182.8L556.7,181.0" stroke-width="1.4" stroke-opacity="0.38"/>
<path d="M485.6,241.9L488.5,240.6L491.4,239.1L494.3,237.6L497.2,236.1" stroke-width="0.9" stroke-opacity="0.68"/>
<path d="M217.8,257.6L225.8,255.9L233.8,254.1L241.8,252.3L249.7,250.4" stroke-width="1.5" stroke-opacity="0.77"/>
<path d="M224.0,247.6L229.6,246.2L235.1,244.8L240.6,243.3L246.1,241.9" stroke-width="2.3" stroke-opacity="0.60"/>
<path d="M337.1,212.1L342.5,207.8L347.9,203.5L353.3,199.1L358.8,194.7" stroke-width="1.4" stroke-opacity="0.47"/>
<path d="M239.0,275.9L247.3,274.3L255.6,272.3L263.9,269.9L272.1,267.5" stroke-width="2.0" stroke-opacity="0.54"/>
<path d="M384.7,284.4L388.4,282.6L392.1,280.8L395.8,278.9L399.5,277.1" stroke-width="1.3" stroke-opacity="0.68"/>
<path d="M381.3,300.0L385.6,298.9L389.9,297.8L394.2,296.7L398.5,295.6" stroke-width="1.2" stroke-opacity="0.41"/>
<path d="M269.3,242.9L275.9,239.6L282.4,236.3L289.0,232.4L295.5,228.4" stroke-width="1.0" stroke-opacity="0.49"/>
<path d="M428.2,201.2L431.7,198.7L435.2,196.2L438.6,193.6L442.1,191.4" stroke-width="1.2" stroke-opacity="0.77"/>
<path d="M411.2,306.4L413.4,305.4L415.6,304.4L417.8,303.3L420.0,302.1" stroke-width="0.9" stroke-opacity="0.37"/>
<path d="M242.7,293.0L246.4,292.2L250.0,291.4L253.7,290.4L257.3,289.4" stroke-width="1.1" stroke-opacity="0.77"/>
<path d="M441.5,244.6L445.5,243.3L449.4,242.0L453.3,240.7L457.3,239.3" stroke-width="2.1" stroke-opacity="0.74"/>
<path d="M164.0,303.4L177.2,301.9L190.4,300.5L203.6,299.0L216.8,297.4" stroke-width="2.1" stroke-opacity="0.46"/>
<path d="M180.3,269.3L185.6,267.7L191.0,266.1L196.3,264.4L201.7,262.7" stroke-width="1.2" stroke-opacity="0.39"/>
<path d="M124.2,272.8L138.3,269.0L152.3,265.1L166.4,261.1L180.4,257.0" stroke-width="1.5" stroke-opacity="0.38"/>
<path d="M325.3,233.3L331.9,229.6L338.5,225.9L345.2,222.1L351.8,218.3" stroke-width="1.9" stroke-opacity="0.75"/>
<path d="M356.9,280.0L370.4,276.2L383.9,272.5L397.5,269.0L411.0,264.6" stroke-width="1.4" stroke-opacity="0.56"/>
<path d="M282.4,294.5L287.8,293.3L293.3,292.1L298.7,290.8L304.1,289.5" stroke-width="1.6" stroke-opacity="0.57"/>
<path d="M130.9,287.2L137.3,286.0L143.7,284.8L150.1,283.5L156.5,282.3" stroke-width="2.1" stroke-opacity="0.62"/>
<path d="M229.2,260.7L234.1,259.1L238.9,257.5L243.7,255.8L248.6,254.1" stroke-width="1.0" stroke-opacity="0.49"/>
<path d="M247.0,262.8L250.1,262.0L253.2,261.0L256.3,259.9L259.4,258.8" stroke-width="1.0" stroke-opacity="0.51"/>
<path d="M309.5,218.3L311.5,217.1L313.4,215.8L315.4,214.4L317.3,212.7" stroke-width="0.9" stroke-opacity="0.71"/>
<path d="M160.4,307.1L164.7,306.4L168.9,305.6L173.1,304.9L177.4,304.2" stroke-width="0.8" stroke-opacity="0.81"/>
<path d="M387.9,274.3L401.6,270.3L415.2,265.5L428.9,260.1L442.5,254.3" stroke-width="0.8" stroke-opacity="0.74"/>
<path d="M277.7,236.7L282.7,234.8L287.8,232.5L292.8,230.1L297.9,227.7" stroke-width="2.1" stroke-opacity="0.77"/>
<path d="M287.3,282.4L293.4,280.3L299.5,278.2L305.5,276.0L311.6,273.8" stroke-width="1.4" stroke-opacity="0.77"/>
<path d="M179.7,272.1L184.7,270.6L189.7,269.1L194.7,267.5L199.7,265.9" stroke-width="2.3" stroke-opacity="0.60"/>
<path d="M224.9,267.1L229.7,266.1L234.4,265.2L239.1,264.2L243.9,263.2" stroke-width="1.5" stroke-opacity="0.83"/>
<path d="M184.0,318.0L186.6,317.6L189.2,317.1L191.8,316.6L194.4,316.1" stroke-width="2.2" stroke-opacity="0.74"/>
<path d="M274.0,287.0L278.4,285.9L282.8,284.7L287.1,283.4L291.5,282.0" stroke-width="1.9" stroke-opacity="0.76"/>
<path d="M113.5,301.1L117.5,300.6L121.5,300.1L125.5,299.5L129.5,299.0" stroke-width="0.9" stroke-opacity="0.51"/>
<path d="M515.7,271.1L527.9,262.8L540.1,254.6L552.4,246.8L564.6,239.5" stroke-width="2.1" stroke-opacity="0.38"/>
<path d="M398.7,311.7L403.4,309.8L408.1,307.8L412.8,305.8L417.4,303.8" stroke-width="1.3" stroke-opacity="0.52"/>
<path d="M95.7,316.5L100.7,315.7L105.8,314.9L110.8,314.1L115.8,313.3" stroke-width="1.4" stroke-opacity="0.64"/>
<path d="M370.2,286.2L373.9,284.4L377.6,282.5L381.4,280.6L385.1,278.7" stroke-width="1.7" stroke-opacity="0.41"/>
<path d="M123.1,292.3L127.6,291.4L132.1,290.5L136.5,289.5L141.0,288.6" stroke-width="1.2" stroke-opacity="0.64"/>
<path d="M367.2,300.5L369.2,299.9L371.2,299.3L373.2,298.7L375.2,298.1" stroke-width="2.2" stroke-opacity="0.63"/>
<path d="M450.9,280.9L457.9,276.3L464.9,271.7L471.9,267.0L478.8,262.2" stroke-width="1.4" stroke-opacity="0.44"/>
<path d="M152.0,315.7L160.4,314.8L168.8,314.0L177.3,313.1L185.7,312.2" stroke-width="1.4" stroke-opacity="0.36"/>
<path d="M244.9,248.9L250.4,247.1L255.8,244.9L261.2,242.4L266.7,239.9" stroke-width="2.2" stroke-opacity="0.63"/>
<path d="M194.1,266.2L199.7,264.6L205.4,263.0L211.0,261.4L216.7,259.7" stroke-width="2.1" stroke-opacity="0.41"/>
<path d="M428.6,209.5L443.0,202.9L457.3,197.3L471.7,191.6L486.1,186.2" stroke-width="1.7" stroke-opacity="0.75"/>
<path d="M523.7,204.9L526.7,203.1L529.6,201.4L532.6,199.6L535.6,197.9" stroke-width="1.7" stroke-opacity="0.41"/>
<path d="M198.5,298.0L207.4,296.1L216.3,294.1L225.2,292.1L234.1,290.0" stroke-width="1.4" stroke-opacity="0.42"/>
<path d="M153.9,323.5L159.9,323.0L165.9,322.4L171.9,321.8L177.9,321.2" stroke-width="1.0" stroke-opacity="0.60"/>
<path d="M191.9,272.2L194.5,271.6L197.0,271.1L199.6,270.5L202.2,269.9" stroke-width="1.6" stroke-opacity="0.43"/>
<path d="M298.6,283.8L311.9,280.4L325.1,275.8L338.4,271.0L351.6,265.9" stroke-width="2.2" stroke-opacity="0.64"/>
<path d="M230.9,288.3L235.0,287.6L239.1,286.8L243.2,286.0L247.4,285.2" stroke-width="0.8" stroke-opacity="0.64"/>
<path d="M167.8,309.4L174.8,308.2L181.7,306.9L188.7,305.6L195.7,304.3" stroke-width="1.2" stroke-opacity="0.49"/>
<path d="M265.7,313.8L270.2,313.4L274.6,313.0L279.1,312.6L283.5,312.1" stroke-width="1.7" stroke-opacity="0.74"/>
<path d="M183.9,299.6L188.9,298.5L193.9,297.3L199.0,296.2L204.0,295.0" stroke-width="2.2" stroke-opacity="0.82"/>
<path d="M261.6,265.0L276.2,260.2L290.7,254.8L305.3,248.8L319.8,241.7" stroke-width="1.7" stroke-opacity="0.55"/>
<path d="M289.6,282.0L296.5,280.1L303.5,278.2L310.5,276.2L317.4,273.9" stroke-width="1.2" stroke-opacity="0.52"/>
<path d="M153.4,284.2L165.0,282.0L176.6,279.8L188.3,277.5L199.9,275.2" stroke-width="1.1" stroke-opacity="0.38"/>
<path d="M267.2,318.9L279.8,315.7L292.5,312.3L305.1,308.4L317.7,304.2" stroke-width="1.7" stroke-opacity="0.39"/>
<path d="M375.7,252.3L386.4,245.8L397.0,239.0L407.7,231.7L418.4,224.4" stroke-width="0.9" stroke-opacity="0.59"/>
<path d="M131.3,304.3L133.0,303.9L134.7,303.6L136.4,303.3L138.1,303.0" stroke-width="1.1" stroke-opacity="0.55"/>
<path d="M378.4,210.4L392.0,199.6L405.7,188.2L419.3,176.9L432.9,165.3" stroke-width="1.8" stroke-opacity="0.39"/>
<path d="M505.9,196.1L508.2,194.6L510.5,193.1L512.8,191.7L515.1,190.2" stroke-width="1.8" stroke-opacity="0.81"/>
<path d="M272.2,259.0L285.9,254.1L299.5,248.4L313.1,242.6L326.7,234.5" stroke-width="0.9" stroke-opacity="0.56"/>
<path d="M406.1,268.9L410.4,267.0L414.7,265.1L418.9,263.0L423.2,260.7" stroke-width="0.8" stroke-opacity="0.81"/>
<path d="M543.7,217.1L548.6,215.3L553.6,213.7L558.5,212.2L563.4,210.6" stroke-width="1.0" stroke-opacity="0.42"/>
<path d="M185.7,279.1L197.1,276.4L208.4,273.7L219.7,270.9L231.1,267.9" stroke-width="1.9" stroke-opacity="0.65"/>
<path d="M447.9,175.9L453.3,173.3L458.8,170.7L464.2,168.1L469.7,165.5" stroke-width="2.0" stroke-opacity="0.84"/>
<path d="M267.4,314.9L274.1,313.7L280.8,312.5L287.6,311.2L294.3,309.9" stroke-width="1.8" stroke-opacity="0.74"/>
<path d="M542.9,261.2L548.3,258.9L553.8,256.9L559.2,254.8L564.6,252.8" stroke-width="0.9" stroke-opacity="0.60"/>
<path d="M222.3,304.4L233.0,302.0L243.8,299.6L254.5,297.0L265.3,293.9" stroke-width="2.3" stroke-opacity="0.43"/>
<path d="M459.2,194.5L466.1,191.1L473.0,187.7L480.0,184.4L486.9,181.4" stroke-width="2.1" stroke-opacity="0.58"/>
<path d="M510.1,178.5L515.7,176.0L521.2,173.6L526.8,171.3L532.4,169.0" stroke-width="2.2" stroke-opacity="0.38"/>
<path d="M298.2,293.6L314.8,289.7L331.5,284.5L348.1,279.1L364.7,273.4" stroke-width="1.2" stroke-opacity="0.57"/>
<path d="M224.9,244.9L238.4,241.2L252.0,237.5L265.5,232.0L279.1,226.3" stroke-width="1.7" stroke-opacity="0.43"/>
<path d="M193.9,298.8L199.5,298.0L205.2,297.1L210.9,296.2L216.6,295.3" stroke-width="1.6" stroke-opacity="0.80"/>
<path d="M428.3,166.6L432.3,164.3L436.4,161.9L440.4,159.6L444.5,157.9" stroke-width="2.2" stroke-opacity="0.53"/>
<path d="M493.2,289.9L499.5,286.7L505.8,283.5L512.1,280.9L518.4,278.2" stroke-width="1.0" stroke-opacity="0.84"/>
<path d="M513.2,249.6L518.8,246.1L524.4,242.8L530.0,239.6L535.5,236.3" stroke-width="0.9" stroke-opacity="0.52"/>
<path d="M153.1,304.7L170.1,301.2L187.0,297.4L204.0,293.5L221.0,289.3" stroke-width="1.9" stroke-opacity="0.37"/>
<path d="M258.6,237.5L260.8,236.6L262.9,235.7L265.0,234.8L267.2,233.9" stroke-width="2.2" stroke-opacity="0.41"/>
<path d="M221.0,306.6L223.5,306.0L226.1,305.5L228.6,305.0L231.2,304.4" stroke-width="1.6" stroke-opacity="0.41"/>
<path d="M343.5,200.6L354.1,190.8L364.7,180.8L375.2,170.4L385.8,160.6" stroke-width="2.0" stroke-opacity="0.49"/>
<path d="M272.0,281.5L273.8,281.0L275.6,280.4L277.4,279.9L279.2,279.3" stroke-width="1.4" stroke-opacity="0.36"/>
<path d="M415.8,157.2L420.4,153.4L425.0,149.5L429.5,145.6L434.1,141.6" stroke-width="1.9" stroke-opacity="0.55"/>
<path d="M313.1,273.5L324.0,269.4L335.0,265.2L346.0,260.9L356.9,256.5" stroke-width="2.4" stroke-opacity="0.35"/>
<path d="M520.2,236.6L525.1,234.6L530.0,232.6L534.9,230.6L539.8,228.6" stroke-width="1.0" stroke-opacity="0.77"/>
<path d="M512.5,177.8L517.8,175.1L523.2,172.6L528.5,170.1L533.9,167.7" stroke-width="1.3" stroke-opacity="0.84"/>
<path d="M436.3,145.6L448.5,139.5L460.8,134.0L473.0,128.5L485.2,123.8" stroke-width="1.8" stroke-opacity="0.72"/>
<path d="M438.8,194.0L443.2,191.9L447.7,189.8L452.1,187.8L456.6,185.6" stroke-width="1.8" stroke-opacity="0.62"/>
<path d="M396.3,204.6L402.8,200.3L409.4,195.9L415.9,191.8L422.4,187.5" stroke-width="1.6" stroke-opacity="0.46"/>
<path d="M521.5,150.6L526.0,149.2L530.4,147.7L534.8,146.3L539.3,144.9" stroke-width="1.1" stroke-opacity="0.76"/>
<path d="M387.9,318.1L404.0,314.3L420.1,308.8L436.2,301.8L452.4,294.4" stroke-width="2.1" stroke-opacity="0.76"/>
<path d="M228.8,258.1L230.9,257.5L233.0,256.9L235.1,256.3L237.3,255.6" stroke-width="1.5" stroke-opacity="0.39"/>
<path d="M549.1,147.7L553.0,145.7L556.9,143.8L560.7,141.9L564.6,140.0" stroke-width="1.0" stroke-opacity="0.69"/>
<path d="M366.9,261.1L370.5,259.9L374.1,258.6L377.6,257.4L381.2,256.3" stroke-width="1.1" stroke-opacity="0.64"/>
<path d="M222.8,299.7L232.6,297.3L242.5,294.8L252.3,292.2L262.1,289.1" stroke-width="0.9" stroke-opacity="0.67"/>
<path d="M114.1,299.8L120.0,299.1L125.9,298.4L131.8,297.7L137.7,297.0" stroke-width="1.5" stroke-opacity="0.53"/>
<path d="M277.2,285.4L282.3,284.1L287.4,282.6L292.5,281.1L297.6,279.5" stroke-width="1.7" stroke-opacity="0.81"/>
<path d="M525.7,221.8L535.4,218.4L545.2,214.9L554.9,211.6L564.6,208.5" stroke-width="2.0" stroke-opacity="0.54"/>
<path d="M335.3,246.8L350.1,238.2L364.8,229.3L379.5,220.2L394.2,211.5" stroke-width="1.5" stroke-opacity="0.77"/>
<path d="M332.9,256.5L344.4,249.3L355.9,241.8L367.5,233.9L379.0,225.7" stroke-width="1.9" stroke-opacity="0.72"/>
<path d="M180.3,267.8L184.9,266.9L189.5,266.1L194.0,265.2L198.6,264.3" stroke-width="1.2" stroke-opacity="0.39"/>
<path d="M201.6,314.0L207.3,313.0L213.0,311.9L218.6,310.9L224.3,309.8" stroke-width="1.9" stroke-opacity="0.59"/>
<path d="M430.0,301.2L434.8,298.3L439.5,295.1L444.3,292.1L449.1,289.1" stroke-width="1.0" stroke-opacity="0.52"/>
<path d="M156.5,299.7L166.3,298.3L176.2,296.9L186.0,295.4L195.8,294.0" stroke-width="2.2" stroke-opacity="0.63"/>
<path d="M329.0,311.7L332.2,310.7L335.4,309.6L338.7,308.5L341.9,307.4" stroke-width="1.2" stroke-opacity="0.45"/>
<path d="M372.1,233.1L376.2,230.7L380.3,228.6L384.4,226.4L388.5,224.2" stroke-width="2.1" stroke-opacity="0.45"/>
<path d="M161.4,293.3L164.7,292.6L168.0,291.9L171.3,291.3L174.6,290.6" stroke-width="1.3" stroke-opacity="0.49"/>
<path d="M255.6,280.5L270.8,274.6L285.9,268.3L301.1,260.8L316.3,252.7" stroke-width="1.5" stroke-opacity="0.79"/>
<path d="M337.0,319.1L338.8,318.7L340.6,318.2L342.4,317.8L344.3,317.4" stroke-width="1.1" stroke-opacity="0.81"/>
<path d="M471.2,244.6L476.5,242.1L481.7,239.8L487.0,237.6L492.2,235.0" stroke-width="2.1" stroke-opacity="0.42"/>
<path d="M122.4,266.2L124.4,265.7L126.5,265.1L128.6,264.6L130.7,264.1" stroke-width="1.9" stroke-opacity="0.48"/>
<path d="M179.7,315.6L181.6,315.3L183.4,314.9L185.3,314.5L187.2,314.2" stroke-width="1.3" stroke-opacity="0.47"/>
<path d="M291.6,318.2L294.0,317.6L296.4,317.0L298.8,316.4L301.2,315.7" stroke-width="1.0" stroke-opacity="0.75"/>
<path d="M141.2,306.2L144.8,305.6L148.5,305.0L152.1,304.4L155.7,303.8" stroke-width="0.9" stroke-opacity="0.58"/>
<path d="M334.8,298.5L336.9,297.6L339.1,296.7L341.3,295.8L343.5,294.8" stroke-width="2.4" stroke-opacity="0.82"/>
<path d="M274.3,237.5L280.0,235.4L285.6,233.1L291.3,230.6L297.0,228.0" stroke-width="1.6" stroke-opacity="0.78"/>
<path d="M377.1,189.6L379.4,187.7L381.8,185.8L384.1,183.9L386.4,181.9" stroke-width="1.2" stroke-opacity="0.81"/>
<path d="M383.0,310.1L393.6,308.7L404.1,306.9L414.6,304.6L425.1,301.5" stroke-width="1.3" stroke-opacity="0.57"/>
<path d="M447.5,286.9L453.4,283.8L459.3,280.5L465.2,277.2L471.0,273.9" stroke-width="1.0" stroke-opacity="0.63"/>
<path d="M399.4,293.8L401.1,293.0L402.9,292.2L404.6,291.3L406.4,290.5" stroke-width="1.0" stroke-opacity="0.64"/>
<path d="M313.0,221.7L315.5,220.3L317.9,218.5L320.4,216.7L322.8,214.9" stroke-width="2.1" stroke-opacity="0.79"/>
<path d="M218.4,281.8L224.8,280.3L231.2,278.8L237.5,277.2L243.9,275.7" stroke-width="1.0" stroke-opacity="0.58"/>
<path d="M372.6,256.5L376.2,255.0L379.7,253.6L383.3,252.3L386.9,250.9" stroke-width="1.0" stroke-opacity="0.47"/>
<path d="M147.2,320.9L154.4,319.7L161.6,318.5L168.7,317.2L175.9,315.9" stroke-width="1.7" stroke-opacity="0.69"/>
<path d="M456.2,233.6L459.2,231.9L462.2,230.3L465.2,228.6L468.3,227.0" stroke-width="1.3" stroke-opacity="0.80"/>
<path d="M386.6,210.1L391.5,207.8L396.3,205.5L401.1,203.1L405.9,200.5" stroke-width="1.2" stroke-opacity="0.65"/>
<path d="M96.2,302.9L101.5,301.8L106.8,300.7L112.2,299.5L117.5,298.4" stroke-width="1.5" stroke-opacity="0.81"/>
<path d="M527.8,233.8L531.6,231.6L535.4,229.3L539.2,227.1L543.0,224.9" stroke-width="1.9" stroke-opacity="0.43"/>
<path d="M222.3,246.7L225.1,245.6L227.8,244.5L230.6,243.4L233.4,242.3" stroke-width="2.1" stroke-opacity="0.59"/>
<path d="M444.1,267.4L458.8,259.1L473.5,250.4L488.1,241.6L502.8,232.0" stroke-width="2.2" stroke-opacity="0.74"/>
<path d="M444.8,299.6L447.3,298.2L449.7,296.7L452.2,295.3L454.6,293.8" stroke-width="1.0" stroke-opacity="0.76"/>
<path d="M178.4,279.8L193.9,276.5L209.4,273.0L224.9,269.4L240.4,265.6" stroke-width="2.1" stroke-opacity="0.74"/>
<path d="M112.6,323.8L125.0,321.7L137.5,319.4L149.9,317.0L162.3,314.4" stroke-width="2.1" stroke-opacity="0.48"/>
<path d="M255.0,277.7L259.0,276.1L263.1,274.5L267.2,272.9L271.2,271.2" stroke-width="1.9" stroke-opacity="0.71"/>
<path d="M447.3,296.7L461.3,289.8L475.2,282.6L489.2,274.9L503.2,266.2" stroke-width="0.9" stroke-opacity="0.68"/>
<path d="M292.1,314.1L298.3,312.9L304.4,311.6L310.6,310.3L316.7,309.0" stroke-width="0.8" stroke-opacity="0.41"/>
<path d="M326.7,290.0L330.8,288.7L334.8,287.4L338.9,286.1L343.0,284.7" stroke-width="2.2" stroke-opacity="0.66"/>
<path d="M196.9,272.8L202.3,271.2L207.7,269.7L213.1,268.1L218.5,266.4" stroke-width="1.0" stroke-opacity="0.69"/>
<path d="M484.2,292.6L487.2,291.1L490.3,289.4L493.3,287.6L496.4,285.8" stroke-width="2.2" stroke-opacity="0.66"/>
<path d="M135.2,261.7L142.0,260.1L148.8,258.5L155.6,256.9L162.4,255.3" stroke-width="2.1" stroke-opacity="0.43"/>
<path d="M160.5,268.3L167.3,266.8L174.0,265.4L180.7,263.9L187.5,262.4" stroke-width="1.4" stroke-opacity="0.40"/>
<path d="M498.1,278.8L501.8,276.2L505.4,273.6L509.0,271.2L512.6,268.9" stroke-width="0.9" stroke-opacity="0.66"/>
<path d="M531.8,213.4L537.0,210.8L542.1,208.2L547.3,205.7L552.5,203.3" stroke-width="1.9" stroke-opacity="0.80"/>
<path d="M298.5,251.3L306.1,247.7L313.7,244.1L321.3,239.3L328.9,234.3" stroke-width="1.5" stroke-opacity="0.73"/>
<path d="M173.8,309.7L181.1,308.0L188.5,306.3L195.9,304.6L203.3,302.9" stroke-width="2.2" stroke-opacity="0.42"/>
<path d="M388.2,219.1L391.9,217.2L395.6,215.3L399.3,213.3L403.0,211.2" stroke-width="2.0" stroke-opacity="0.50"/>
<path d="M308.4,248.9L322.0,241.9L335.6,233.6L349.2,225.1L362.9,216.3" stroke-width="2.3" stroke-opacity="0.70"/>
<path d="M271.1,249.7L275.8,248.0L280.5,246.2L285.3,244.3L290.0,242.1" stroke-width="1.0" stroke-opacity="0.61"/>
<path d="M103.7,317.8L112.4,316.9L121.2,316.0L130.0,315.1L138.7,314.2" stroke-width="1.4" stroke-opacity="0.83"/>
<path d="M110.7,302.9L117.5,301.8L124.2,300.7L130.9,299.6L137.6,298.4" stroke-width="1.0" stroke-opacity="0.48"/>
<path d="M302.6,229.0L312.3,223.8L322.1,217.0L331.8,209.6L341.6,202.0" stroke-width="2.1" stroke-opacity="0.67"/>
<path d="M283.5,266.6L289.2,264.2L294.9,261.7L300.6,259.1L306.3,256.5" stroke-width="2.0" stroke-opacity="0.49"/>
<path d="M520.3,233.7L523.5,231.8L526.6,229.9L529.8,228.0L532.9,226.1" stroke-width="0.9" stroke-opacity="0.76"/>
<path d="M290.4,308.3L300.1,306.1L309.8,303.7L319.6,301.0L329.3,297.9" stroke-width="2.0" stroke-opacity="0.69"/>
<path d="M477.9,136.8L481.2,135.2L484.4,133.5L487.7,131.9L490.9,130.3" stroke-width="1.9" stroke-opacity="0.74"/>
<path d="M514.4,153.3L524.9,149.2L535.4,145.4L545.9,141.6L556.4,138.0" stroke-width="1.1" stroke-opacity="0.79"/>
<path d="M361.3,268.0L367.8,265.8L374.2,263.7L380.7,261.6L387.2,259.6" stroke-width="1.5" stroke-opacity="0.60"/>
<path d="M173.7,300.8L177.5,300.0L181.3,299.1L185.1,298.3L188.8,297.4" stroke-width="2.1" stroke-opacity="0.77"/>
<path d="M407.8,304.5L419.9,298.5L432.1,291.5L444.2,284.2L456.3,276.9" stroke-width="2.1" stroke-opacity="0.67"/>
<path d="M95.7,306.5L108.3,305.1L120.8,303.8L133.4,302.4L145.9,300.9" stroke-width="1.8" stroke-opacity="0.76"/>
<path d="M251.6,241.0L253.7,240.0L255.8,238.9L257.9,237.9L259.9,236.8" stroke-width="1.4" stroke-opacity="0.70"/>
<path d="M493.1,261.7L494.7,260.8L496.3,259.9L497.9,259.0L499.5,258.1" stroke-width="0.9" stroke-opacity="0.57"/>
<path d="M472.1,255.4L478.2,251.6L484.3,248.0L490.4,244.2L496.5,240.1" stroke-width="1.3" stroke-opacity="0.52"/>
<path d="M239.3,255.9L248.5,253.2L257.6,249.8L266.8,246.0L275.9,242.1" stroke-width="0.8" stroke-opacity="0.74"/>
<path d="M364.1,218.5L366.0,217.1L367.9,215.8L369.8,214.4L371.7,213.0" stroke-width="1.4" stroke-opacity="0.61"/>
<path d="M226.6,246.9L243.7,242.1L260.9,235.9L278.0,228.6L295.2,219.9" stroke-width="2.4" stroke-opacity="0.39"/>
<path d="M214.7,285.1L220.0,284.1L225.3,283.1L230.6,282.1L235.9,281.0" stroke-width="1.1" stroke-opacity="0.55"/>
<path d="M224.0,302.8L236.2,300.1L248.5,297.4L260.8,294.1L273.1,290.5" stroke-width="1.1" stroke-opacity="0.48"/>
<path d="M414.2,303.2L428.8,295.3L443.5,286.6L458.1,277.9L472.7,268.7" stroke-width="2.0" stroke-opacity="0.38"/>
<path d="M150.1,303.2L164.5,301.0L178.9,298.8L193.2,296.6L207.6,294.2" stroke-width="1.1" stroke-opacity="0.67"/>
<path d="M133.2,267.3L135.7,266.5L138.3,265.8L140.8,265.0L143.3,264.2" stroke-width="1.5" stroke-opacity="0.40"/>
<path d="M209.4,316.4L221.2,314.2L233.0,311.8L244.8,309.2L256.7,306.5" stroke-width="1.6" stroke-opacity="0.76"/>
<path d="M207.0,300.0L211.4,299.6L215.7,299.2L220.1,298.7L224.4,298.3" stroke-width="2.3" stroke-opacity="0.71"/>
<path d="M207.3,260.9L212.9,259.1L218.4,257.3L224.0,255.4L229.6,253.5" stroke-width="1.0" stroke-opacity="0.36"/>
<path d="M395.7,195.7L397.3,194.6L398.9,193.6L400.5,192.5L402.1,191.4" stroke-width="0.9" stroke-opacity="0.79"/>
<path d="M191.2,319.8L196.2,319.0L201.1,318.2L206.1,317.5L211.1,316.7" stroke-width="1.1" stroke-opacity="0.47"/>
<path d="M137.8,307.8L142.6,307.1L147.4,306.4L152.2,305.6L157.0,304.9" stroke-width="1.7" stroke-opacity="0.67"/>
<path d="M331.8,261.3L337.4,258.7L342.9,256.0L348.4,253.2L353.9,250.4" stroke-width="1.9" stroke-opacity="0.71"/>
<path d="M415.3,168.5L419.5,165.5L423.6,162.5L427.7,159.4L431.9,156.4" stroke-width="0.9" stroke-opacity="0.47"/>
<path d="M117.4,284.8L123.2,283.4L129.1,281.9L135.0,280.4L140.9,278.8" stroke-width="0.9" stroke-opacity="0.40"/>
<path d="M193.6,255.0L195.5,254.5L197.3,254.1L199.1,253.7L201.0,253.2" stroke-width="1.9" stroke-opacity="0.82"/>
<path d="M522.5,158.8L524.9,158.1L527.3,157.5L529.7,156.8L532.1,156.1" stroke-width="2.4" stroke-opacity="0.70"/>
<path d="M475.4,165.8L479.8,163.0L484.2,160.3L488.5,157.6L492.9,154.8" stroke-width="2.3" stroke-opacity="0.35"/>
<path d="M143.7,283.8L155.8,280.6L168.0,277.3L180.1,273.9L192.3,270.5" stroke-width="0.9" stroke-opacity="0.38"/>
<path d="M282.5,312.9L284.1,312.5L285.7,312.0L287.3,311.6L288.9,311.2" stroke-width="2.1" stroke-opacity="0.58"/>
<path d="M416.0,158.0L419.9,155.2L423.8,152.4L427.7,149.5L431.6,146.6" stroke-width="1.4" stroke-opacity="0.40"/>
<path d="M484.4,239.3L492.5,233.8L500.6,228.2L508.6,222.9L516.7,217.8" stroke-width="1.0" stroke-opacity="0.65"/>
<path d="M189.3,271.7L191.3,271.2L193.3,270.7L195.2,270.2L197.2,269.6" stroke-width="1.6" stroke-opacity="0.58"/>
<path d="M395.6,194.2L402.2,188.8L408.8,183.1L415.4,177.9L421.9,172.5" stroke-width="2.1" stroke-opacity="0.71"/>
<path d="M412.8,314.2L424.2,307.6L435.6,300.3L447.1,292.7L458.5,284.9" stroke-width="1.5" stroke-opacity="0.70"/>
<path d="M282.7,276.8L286.1,275.3L289.4,273.8L292.7,272.2L296.1,270.7" stroke-width="1.8" stroke-opacity="0.82"/>
<path d="M466.2,253.2L480.9,245.5L495.6,237.4L510.3,229.3L525.0,222.1" stroke-width="0.8" stroke-opacity="0.47"/>
<path d="M199.8,256.7L205.6,254.8L211.3,252.9L217.1,251.0L222.9,249.1" stroke-width="1.7" stroke-opacity="0.40"/>
<path d="M287.3,229.9L290.9,228.2L294.5,226.5L298.0,224.8L301.6,223.1" stroke-width="1.6" stroke-opacity="0.67"/>
<path d="M521.4,127.6L527.9,126.0L534.5,124.4L541.0,122.7L547.6,121.1" stroke-width="1.1" stroke-opacity="0.49"/>
<path d="M95.7,323.9L100.4,323.4L105.1,322.8L109.8,322.3L114.5,321.7" stroke-width="1.9" stroke-opacity="0.70"/>
<path d="M457.5,186.4L460.5,185.1L463.4,183.8L466.4,182.5L469.4,181.2" stroke-width="1.2" stroke-opacity="0.83"/>
<path d="M391.5,265.5L396.3,264.1L401.1,262.6L406.0,260.9L410.8,259.3" stroke-width="0.9" stroke-opacity="0.36"/>
<path d="M220.0,317.7L224.3,317.2L228.5,316.8L232.8,316.3L237.1,315.9" stroke-width="2.0" stroke-opacity="0.44"/>
<path d="M279.7,253.0L285.1,251.2L290.4,249.2L295.8,247.2L301.1,245.1" stroke-width="2.3" stroke-opacity="0.52"/>
<path d="M167.0,318.4L176.3,316.9L185.7,315.4L195.0,313.8L204.3,312.2" stroke-width="1.2" stroke-opacity="0.35"/>
<path d="M511.4,175.8L516.6,173.9L521.8,172.1L526.9,170.3L532.1,168.6" stroke-width="1.0" stroke-opacity="0.40"/>
<path d="M138.1,315.8L142.8,315.5L147.4,315.2L152.1,314.8L156.8,314.5" stroke-width="2.2" stroke-opacity="0.42"/>
<path d="M128.3,305.4L136.7,304.2L145.1,303.0L153.6,301.7L162.0,300.4" stroke-width="1.6" stroke-opacity="0.41"/>
<path d="M472.6,255.3L476.3,253.6L479.9,252.0L483.5,250.4L487.2,248.8" stroke-width="1.2" stroke-opacity="0.54"/>
<path d="M407.8,208.2L414.2,203.7L420.5,199.0L426.8,194.2L433.1,189.3" stroke-width="1.2" stroke-opacity="0.36"/>
<path d="M207.5,309.4L212.9,308.5L218.4,307.7L223.8,306.8L229.3,305.9" stroke-width="1.1" stroke-opacity="0.47"/>
</g>
<g fill="none" stroke-width="2.2" stroke-linejoin="round" stroke-linecap="butt">
<path d="M95.7,301.9L98.8,303.1L102.0,304.2L105.1,305.2L108.2,306.2L111.3,307.0L114.5,307.6L117.6,308.2L120.7,308.7L123.8,308.9L127.0,308.9L130.1,308.9L133.2,308.9L136.3,308.9L139.5,308.9L142.6,308.9L145.7,308.9L148.8,308.9L152.0,308.9L155.1,308.9L158.2,308.9L161.3,308.9L164.5,308.9L167.6,308.8L170.7,308.8L173.8,308.8L177.0,308.7L180.1,308.7L183.2,308.7L186.4,308.6L189.5,308.3L192.6,307.8L195.7,307.1L198.9,306.4L202.0,305.6L205.1,304.8L208.2,303.9L211.4,302.9L214.5,302.0L217.6,301.0L220.7,300.0L223.9,298.9L227.0,297.8L230.1,296.8L233.2,295.8L236.4,294.8L239.5,293.8L242.6,292.7L245.7,291.5L248.9,290.1L252.0,288.6L255.1,287.1L258.3,285.7L261.4,284.6L264.5,283.7L267.6,283.0L270.8,282.4L273.9,281.9L277.0,281.4L280.1,280.6L283.3,279.5L286.4,277.9L289.5,276.2L292.6,274.4L295.8,272.6L298.9,270.5L302.0,268.0L305.1,265.2L308.3,261.9L311.4,258.3L314.5,254.5L317.6,251.0L320.8,247.6L323.9,244.2L327.0,241.0L330.1,237.9L333.3,235.0L336.4,231.8L339.5,227.8L342.7,222.9L345.8,217.2L348.9,211.2L352.0,205.1L355.2,199.4L358.3,194.4L361.4,189.8L364.5,185.4L367.7,180.9L370.8,176.4L373.9,171.9L377.0,167.8L380.2,164.5L383.3,162.1L386.4,160.0L389.5,157.9L392.7,155.7L395.8,153.5L398.9,151.2L402.0,148.7L405.2,145.9L408.3,142.5L411.4,138.5L414.6,134.0L417.7,129.1L420.8,123.9L423.9,119.0L427.1,115.2L430.2,112.3L433.3,110.1L436.4,108.5L439.6,107.3L442.7,106.5L445.8,105.9L448.9,105.4L452.1,104.8L455.2,104.1L458.3,103.1L461.4,101.8L464.6,100.6L467.7,99.3L470.8,98.0L473.9,96.6L477.1,95.2L480.2,93.6L483.3,91.6L486.4,89.1L489.6,86.4L492.7,83.6L495.8,80.9L499.0,78.3L502.1,75.7L505.2,73.1L508.3,70.8L511.5,69.1L514.6,67.9L517.7,67.0L520.8,66.4L524.0,66.1L527.1,66.4L530.2,67.0L533.3,67.8L536.5,68.8L539.6,69.9L542.7,70.9L545.8,71.8L549.0,72.4L552.1,72.9L555.2,73.2L558.3,73.4L561.5,73.4L564.6,73.3" stroke="#df615d"/>
<path d="M95.7,276.5L98.8,275.5L102.0,274.5L105.1,273.5L108.2,272.5L111.3,271.5L114.5,270.4L117.6,269.4L120.7,268.4L123.8,267.4L127.0,266.4L130.1,265.4L133.2,264.3L136.3,263.3L139.5,262.3L142.6,261.2L145.7,260.1L148.8,259.0L152.0,257.9L155.1,256.7L158.2,255.5L161.3,254.3L164.5,253.0L167.6,251.8L170.7,250.5L173.8,249.2L177.0,247.9L180.1,246.7L183.2,245.4L186.4,244.1L189.5,242.9L192.6,241.7L195.7,240.5L198.9,239.4L202.0,238.3L205.1,237.4L208.2,236.7L211.4,236.2L214.5,235.6L217.6,234.7L220.7,234.1L223.9,234.2L227.0,234.9L230.1,235.9L233.2,237.1L236.4,238.0L239.5,238.6L242.6,238.9L245.7,239.2L248.9,239.4L252.0,239.4L255.1,239.2L258.3,238.8L261.4,238.4L264.5,237.9L267.6,237.4L270.8,236.7L273.9,235.6L277.0,233.6L280.1,231.0L283.3,228.2L286.4,225.4L289.5,222.5L292.6,219.8L295.8,217.1L298.9,214.7L302.0,212.7L305.1,211.0L308.3,209.6L311.4,208.3L314.5,207.1L317.6,205.7L320.8,204.2L323.9,202.6L327.0,201.0L330.1,199.5L333.3,197.8L336.4,196.0L339.5,194.1L342.7,192.2L345.8,190.3L348.9,188.7L352.0,187.1L355.2,185.6L358.3,184.1L361.4,182.8L364.5,181.8L367.7,181.0L370.8,180.2L373.9,179.5L377.0,178.7L380.2,177.9L383.3,177.2L386.4,176.5L389.5,176.2L392.7,176.5L395.8,177.2L398.9,178.0L402.0,178.8L405.2,179.5L408.3,180.1L411.4,180.3L414.6,179.9L417.7,178.8L420.8,177.2L423.9,175.7L427.1,174.2L430.2,172.7L433.3,171.3L436.4,170.0L439.6,168.6L442.7,167.3L445.8,166.0L448.9,164.7L452.1,163.5L455.2,162.2L458.3,161.1L461.4,159.9L464.6,158.8L467.7,157.6L470.8,156.5L473.9,155.3L477.1,154.2L480.2,153.1L483.3,152.0L486.4,151.0L489.6,150.3L492.7,149.8L495.8,149.4L499.0,149.2L502.1,149.2L505.2,149.2L508.3,149.3L511.5,149.4L514.6,149.4L517.7,149.5L520.8,149.4L524.0,149.2L527.1,148.6L530.2,147.7L533.3,146.7L536.5,145.5L539.6,144.2L542.7,143.3L545.8,142.8L549.0,142.7L552.1,142.6L555.2,142.7L558.3,142.8L561.5,143.0L564.6,143.1" stroke="#f69f54"/>
<path d="M95.7,289.2L98.8,289.3L102.0,289.4L105.1,289.4L108.2,289.5L111.3,289.5L114.5,289.3L117.6,289.2L120.7,289.0L123.8,288.7L127.0,288.2L130.1,287.2L133.2,286.1L136.3,284.8L139.5,283.5L142.6,282.1L145.7,280.7L148.8,279.2L152.0,277.7L155.1,276.1L158.2,274.5L161.3,272.7L164.5,270.8L167.6,268.9L170.7,267.0L173.8,265.1L177.0,263.2L180.1,261.4L183.2,260.0L186.4,259.2L189.5,258.6L192.6,258.1L195.7,257.4L198.9,256.6L202.0,255.5L205.1,254.3L208.2,253.0L211.4,251.8L214.5,250.5L217.6,249.2L220.7,248.0L223.9,247.0L227.0,245.9L230.1,244.9L233.2,243.9L236.4,243.0L239.5,242.1L242.6,241.3L245.7,240.6L248.9,239.8L252.0,238.9L255.1,237.9L258.3,236.7L261.4,235.5L264.5,234.2L267.6,232.7L270.8,231.2L273.9,229.6L277.0,227.8L280.1,225.4L283.3,222.4L286.4,219.2L289.5,215.9L292.6,212.3L295.8,208.6L298.9,205.1L302.0,201.9L305.1,198.9L308.3,196.1L311.4,193.4L314.5,190.8L317.6,188.1L320.8,185.4L323.9,182.7L327.0,180.1L330.1,177.4L333.3,175.0L336.4,173.1L339.5,171.5L342.7,170.0L345.8,168.5L348.9,166.9L352.0,165.3L355.2,163.9L358.3,162.9L361.4,162.4L364.5,162.2L367.7,162.2L370.8,162.2L373.9,162.2L377.0,162.2L380.2,162.2L383.3,162.2L386.4,162.2L389.5,162.1L392.7,161.9L395.8,161.4L398.9,160.5L402.0,159.4L405.2,158.0L408.3,156.7L411.4,155.5L414.6,154.3L417.7,153.0L420.8,151.4L423.9,149.6L427.1,147.9L430.2,146.2L433.3,144.5L436.4,142.9L439.6,141.4L442.7,140.0L445.8,138.8L448.9,137.8L452.1,137.1L455.2,136.6L458.3,136.0L461.4,135.2L464.6,134.1L467.7,132.6L470.8,131.1L473.9,129.6L477.1,128.0L480.2,126.5L483.3,125.0L486.4,123.4L489.6,121.9L492.7,120.4L495.8,119.1L499.0,118.3L502.1,117.9L505.2,117.8L508.3,117.7L511.5,117.7L514.6,117.7L517.7,117.7L520.8,117.7L524.0,117.7L527.1,117.7L530.2,117.7L533.3,117.7L536.5,117.7L539.6,117.7L542.7,117.7L545.8,117.7L549.0,117.7L552.1,117.7L555.2,117.7L558.3,117.7L561.5,117.7L564.6,117.7" stroke="#93a532"/>
<path d="M95.7,321.9L98.8,322.1L102.0,322.1L105.1,321.9L108.2,321.5L111.3,320.8L114.5,320.1L117.6,319.4L120.7,318.6L123.8,317.9L127.0,317.1L130.1,316.1L133.2,315.1L136.3,314.1L139.5,313.1L142.6,312.0L145.7,310.8L148.8,309.6L152.0,308.3L155.1,307.0L158.2,305.8L161.3,304.5L164.5,303.2L167.6,301.9L170.7,300.7L173.8,299.3L177.0,298.0L180.1,296.6L183.2,295.2L186.4,293.8L189.5,292.5L192.6,291.2L195.7,289.9L198.9,288.6L202.0,287.3L205.1,285.9L208.2,284.4L211.4,282.8L214.5,281.1L217.6,279.5L220.7,277.8L223.9,276.2L227.0,274.5L230.1,272.8L233.2,271.2L236.4,269.6L239.5,268.2L242.6,266.8L245.7,265.4L248.9,263.9L252.0,262.5L255.1,261.0L258.3,259.6L261.4,258.4L264.5,257.2L267.6,256.0L270.8,254.6L273.9,253.2L277.0,251.6L280.1,250.0L283.3,248.2L286.4,246.0L289.5,243.5L292.6,240.9L295.8,238.0L298.9,234.9L302.0,231.6L305.1,227.9L308.3,223.8L311.4,219.3L314.5,214.7L317.6,209.8L320.8,204.5L323.9,199.0L327.0,193.3L330.1,187.5L333.3,181.3L336.4,174.7L339.5,167.7L342.7,160.9L345.8,154.7L348.9,149.0L352.0,143.5L355.2,138.5L358.3,134.0L361.4,129.8L364.5,125.8L367.7,121.8L370.8,118.2L373.9,114.9L377.0,111.6L380.2,108.0L383.3,104.3L386.4,100.4L389.5,96.6L392.7,92.7L395.8,89.0L398.9,85.3L402.0,81.7L405.2,78.4L408.3,75.4L411.4,72.6L414.6,70.0L417.7,67.6L420.8,65.4L423.9,63.3L427.1,60.8L430.2,58.2L433.3,55.6L436.4,53.4L439.6,51.5L442.7,50.1L445.8,49.2L448.9,48.7L452.1,48.8L455.2,49.5L458.3,50.9L461.4,52.3L464.6,53.4L467.7,54.1L470.8,54.5L473.9,54.7L477.1,54.6L480.2,54.5L483.3,54.3L486.4,54.3L489.6,54.2L492.7,54.2L495.8,54.2L499.0,54.2L502.1,54.2L505.2,54.2L508.3,54.2L511.5,54.2L514.6,54.2L517.7,54.3L520.8,54.6L524.0,55.2L527.1,56.2L530.2,57.4L533.3,58.6L536.5,59.7L539.6,60.7L542.7,61.7L545.8,62.7L549.0,63.7L552.1,64.6L555.2,65.5L558.3,66.2L561.5,66.7L564.6,66.9" stroke="#5bba47"/>
<path d="M95.7,282.9L98.8,282.9L102.0,282.9L105.1,282.9L108.2,282.9L111.3,282.9L114.5,282.9L117.6,282.9L120.7,282.9L123.8,283.0L127.0,283.1L130.1,283.2L133.2,283.3L136.3,283.2L139.5,282.8L142.6,282.0L145.7,280.9L148.8,279.7L152.0,278.6L155.1,277.6L158.2,276.8L161.3,276.3L164.5,276.3L167.6,276.4L170.7,276.4L173.8,275.9L177.0,274.9L180.1,273.8L183.2,272.6L186.4,271.5L189.5,270.7L192.6,270.5L195.7,270.7L198.9,270.8L202.0,270.6L205.1,270.0L208.2,269.0L211.4,267.9L214.5,266.8L217.6,265.8L220.7,265.0L223.9,264.5L227.0,264.0L230.1,263.5L233.2,262.9L236.4,262.1L239.5,261.1L242.6,260.1L245.7,259.2L248.9,258.4L252.0,258.0L255.1,257.8L258.3,257.6L261.4,257.5L264.5,257.5L267.6,257.5L270.8,257.5L273.9,257.4L277.0,257.2L280.1,256.6L283.3,255.7L286.4,254.3L289.5,252.5L292.6,250.7L295.8,249.1L298.9,247.5L302.0,246.2L305.1,245.0L308.3,243.9L311.4,242.6L314.5,240.8L317.6,238.3L320.8,235.3L323.9,232.3L327.0,229.6L330.1,227.1L333.3,224.7L336.4,222.4L339.5,220.1L342.7,217.9L345.8,215.7L348.9,213.7L352.0,211.7L355.2,209.8L358.3,207.9L361.4,206.1L364.5,204.3L367.7,202.5L370.8,200.7L373.9,198.9L377.0,197.2L380.2,195.6L383.3,194.1L386.4,192.6L389.5,191.0L392.7,189.2L395.8,187.0L398.9,184.7L402.0,182.3L405.2,179.9L408.3,177.5L411.4,175.1L414.6,172.7L417.7,170.0L420.8,166.9L423.9,163.4L427.1,159.9L430.2,156.4L433.3,153.2L436.4,150.5L439.6,148.1L442.7,145.9L445.8,143.8L448.9,141.8L452.1,140.2L455.2,138.8L458.3,137.8L461.4,137.1L464.6,136.6L467.7,136.3L470.8,135.9L473.9,135.3L477.1,134.5L480.2,133.6L483.3,132.6L486.4,131.7L489.6,131.1L492.7,130.8L495.8,130.9L499.0,130.9L502.1,130.9L505.2,130.6L508.3,129.9L511.5,128.9L514.6,127.5L517.7,126.2L520.8,125.2L524.0,124.5L527.1,124.1L530.2,124.0L533.3,123.6L536.5,122.8L539.6,121.7L542.7,120.5L545.8,119.5L549.0,118.7L552.1,118.3L555.2,118.1L558.3,118.0L561.5,117.9L564.6,117.7" stroke="#3f9b3c"/>
<path d="M95.7,301.9L98.8,301.7L102.0,301.4L105.1,301.2L108.2,300.9L111.3,300.4L114.5,299.7L117.6,298.9L120.7,298.0L123.8,297.1L127.0,296.3L130.1,295.6L133.2,295.0L136.3,294.4L139.5,293.6L142.6,292.5L145.7,291.3L148.8,290.2L152.0,289.2L155.1,288.4L158.2,287.5L161.3,286.7L164.5,285.6L167.6,284.2L170.7,282.7L173.8,281.1L177.0,279.5L180.1,277.9L183.2,276.3L186.4,274.7L189.5,273.2L192.6,271.6L195.7,270.1L198.9,268.7L202.0,267.2L205.1,265.5L208.2,263.6L211.4,261.5L214.5,259.3L217.6,257.1L220.7,254.6L223.9,251.7L227.0,248.4L230.1,244.9L233.2,241.2L236.4,237.5L239.5,234.1L242.6,230.8L245.7,227.6L248.9,224.2L252.0,220.5L255.1,216.5L258.3,212.4L261.4,208.4L264.5,204.4L267.6,200.6L270.8,196.8L273.9,192.9L277.0,189.1L280.1,185.3L283.3,181.5L286.4,177.7L289.5,173.8L292.6,169.9L295.8,166.0L298.9,162.0L302.0,157.8L305.1,153.8L308.3,150.4L311.4,147.9L314.5,145.9L317.6,144.2L320.8,142.6L323.9,141.4L327.0,140.3L330.1,139.2L333.3,138.0L336.4,136.8L339.5,135.5L342.7,134.2L345.8,132.8L348.9,131.3L352.0,129.7L355.2,127.9L358.3,125.7L361.4,123.0L364.5,119.9L367.7,116.6L370.8,113.9L373.9,111.7L377.0,109.7L380.2,107.7L383.3,105.5L386.4,103.4L389.5,101.5L392.7,99.9L395.8,98.6L398.9,97.3L402.0,96.1L405.2,94.9L408.3,93.8L411.4,93.0L414.6,92.4L417.7,91.9L420.8,91.7L423.9,91.7L427.1,91.8L430.2,91.9L433.3,92.1L436.4,92.1L439.6,91.8L442.7,91.0L445.8,89.8L448.9,88.7L452.1,87.7L455.2,87.0L458.3,86.5L461.4,86.4L464.6,86.2L467.7,86.1L470.8,86.0L473.9,86.0L477.1,86.0L480.2,86.0L483.3,86.0L486.4,86.0L489.6,86.0L492.7,86.0L495.8,86.0L499.0,86.0L502.1,86.0L505.2,86.0L508.3,86.0L511.5,86.0L514.6,86.0L517.7,86.0L520.8,86.0L524.0,86.0L527.1,86.0L530.2,86.0L533.3,86.0L536.5,86.0L539.6,86.0L542.7,86.0L545.8,86.0L549.0,86.0L552.1,86.0L555.2,86.0L558.3,86.0L561.5,86.0L564.6,86.0" stroke="#3cbcb7"/>
<path d="M95.7,271.1L98.8,270.7L102.0,270.2L105.1,269.6L108.2,268.7L111.3,267.7L114.5,266.8L117.6,265.9L120.7,265.0L123.8,264.1L127.0,263.1L130.1,262.0L133.2,260.9L136.3,259.8L139.5,258.6L142.6,257.5L145.7,256.5L148.8,255.5L152.0,254.5L155.1,253.5L158.2,252.5L161.3,251.4L164.5,250.3L167.6,249.0L170.7,247.6L173.8,246.2L177.0,244.8L180.1,243.4L183.2,241.9L186.4,240.5L189.5,239.0L192.6,237.7L195.7,236.4L198.9,235.2L202.0,234.0L205.1,233.1L208.2,232.6L211.4,232.3L214.5,232.2L217.6,232.1L220.7,232.0L223.9,232.0L227.0,231.9L230.1,232.0L233.2,232.3L236.4,232.9L239.5,233.7L242.6,234.7L245.7,235.8L248.9,236.9L252.0,237.9L255.1,238.5L258.3,239.0L261.4,239.2L264.5,239.2L267.6,239.0L270.8,238.9L273.9,238.7L277.0,238.5L280.1,238.0L283.3,237.0L286.4,235.6L289.5,234.1L292.6,232.6L295.8,231.0L298.9,229.4L302.0,227.7L305.1,226.0L308.3,224.2L311.4,222.4L314.5,220.6L317.6,218.7L320.8,216.8L323.9,214.9L327.0,213.0L330.1,211.0L333.3,208.8L336.4,206.5L339.5,204.2L342.7,202.0L345.8,199.8L348.9,197.8L352.0,195.9L355.2,194.0L358.3,192.1L361.4,190.4L364.5,188.9L367.7,187.6L370.8,186.3L373.9,185.0L377.0,183.7L380.2,182.3L383.3,180.8L386.4,179.3L389.5,178.1L392.7,177.1L395.8,176.4L398.9,175.7L402.0,175.0L405.2,174.2L408.3,173.3L411.4,172.0L414.6,170.6L417.7,169.1L420.8,167.5L423.9,166.0L427.1,164.3L430.2,162.7L433.3,161.1L436.4,159.5L439.6,158.0L442.7,156.8L445.8,155.8L448.9,154.9L452.1,154.1L455.2,153.2L458.3,152.3L461.4,151.3L464.6,150.3L467.7,149.2L470.8,148.2L473.9,147.1L477.1,145.9L480.2,144.8L483.3,143.7L486.4,142.6L489.6,141.5L492.7,140.5L495.8,139.5L499.0,138.5L502.1,137.7L505.2,137.2L508.3,137.0L511.5,136.8L514.6,136.8L517.7,136.8L520.8,136.8L524.0,136.8L527.1,136.8L530.2,136.8L533.3,136.8L536.5,136.8L539.6,136.8L542.7,136.8L545.8,136.7L549.0,136.4L552.1,135.7L555.2,134.8L558.3,133.6L561.5,132.2L564.6,130.4" stroke="#a593cc"/>
<path d="M95.7,321.0L98.8,321.1L102.0,321.1L105.1,321.2L108.2,321.3L111.3,321.3L114.5,321.4L117.6,321.4L120.7,321.5L123.8,321.6L127.0,321.6L130.1,321.5L133.2,321.4L136.3,321.0L139.5,320.3L142.6,319.4L145.7,318.3L148.8,317.2L152.0,315.9L155.1,314.7L158.2,313.5L161.3,312.4L164.5,311.3L167.6,310.3L170.7,309.3L173.8,308.3L177.0,307.3L180.1,306.3L183.2,305.4L186.4,304.4L189.5,303.4L192.6,302.6L195.7,302.1L198.9,301.9L202.0,301.8L205.1,301.7L208.2,301.4L211.4,301.0L214.5,300.5L217.6,299.9L220.7,299.3L223.9,298.7L227.0,298.0L230.1,297.3L233.2,296.6L236.4,296.1L239.5,295.6L242.6,295.3L245.7,294.9L248.9,294.6L252.0,293.9L255.1,293.0L258.3,291.9L261.4,291.0L264.5,290.4L267.6,290.0L270.8,289.7L273.9,289.4L277.0,288.9L280.1,288.2L283.3,287.0L286.4,285.5L289.5,283.8L292.6,281.9L295.8,279.6L298.9,276.8L302.0,273.4L305.1,269.3L308.3,264.3L311.4,258.3L314.5,251.8L317.6,245.2L320.8,238.6L323.9,232.0L327.0,225.3L330.1,218.5L333.3,211.8L336.4,205.4L339.5,199.2L342.7,193.5L345.8,188.4L348.9,183.7L352.0,179.4L355.2,175.2L358.3,171.2L361.4,167.0L364.5,162.5L367.7,157.6L370.8,152.4L373.9,147.3L377.0,142.5L380.2,138.6L383.3,135.6L386.4,132.6L389.5,129.4L392.7,126.3L395.8,123.3L398.9,120.7L402.0,118.4L405.2,116.5L408.3,114.9L411.4,113.2L414.6,111.6L417.7,110.0L420.8,108.4L423.9,106.7L427.1,104.7L430.2,102.6L433.3,100.3L436.4,98.0L439.6,95.7L442.7,93.5L445.8,91.5L448.9,89.8L452.1,88.2L455.2,87.0L458.3,86.2L461.4,85.8L464.6,85.8L467.7,86.2L470.8,86.9L473.9,87.9L477.1,89.1L480.2,90.3L483.3,91.3L486.4,91.9L489.6,92.2L492.7,92.2L495.8,92.1L499.0,92.1L502.1,92.2L505.2,92.5L508.3,93.0L511.5,93.7L514.6,94.6L517.7,95.6L520.8,96.7L524.0,97.6L527.1,98.2L530.2,98.4L533.3,98.6L536.5,98.7L539.6,98.7L542.7,98.7L545.8,98.7L549.0,98.7L552.1,98.7L555.2,98.7L558.3,98.7L561.5,98.7L564.6,98.7" stroke="#d86a9b"/>
<path d="M95.7,314.6L98.8,314.6L102.0,314.6L105.1,314.6L108.2,314.6L111.3,314.6L114.5,314.6L117.6,314.6L120.7,314.6L123.8,314.6L127.0,314.6L130.1,314.6L133.2,314.6L136.3,314.6L139.5,314.6L142.6,314.6L145.7,314.6L148.8,314.3L152.0,313.7L155.1,312.9L158.2,312.1L161.3,311.2L164.5,310.3L167.6,309.5L170.7,308.8L173.8,308.5L177.0,308.3L180.1,308.3L183.2,308.3L186.4,308.3L189.5,308.3L192.6,308.3L195.7,308.3L198.9,308.2L202.0,307.9L205.1,307.2L208.2,306.2L211.4,305.2L214.5,304.1L217.6,303.1L220.7,301.9L223.9,300.8L227.0,299.6L230.1,298.4L233.2,297.1L236.4,295.8L239.5,294.5L242.6,293.2L245.7,291.9L248.9,290.5L252.0,289.0L255.1,287.0L258.3,284.8L261.4,282.6L264.5,280.5L267.6,278.3L270.8,276.0L273.9,273.6L277.0,271.2L280.1,268.7L283.3,266.2L286.4,263.5L289.5,260.6L292.6,257.8L295.8,254.9L298.9,251.9L302.0,248.7L305.1,245.4L308.3,242.0L311.4,238.0L314.5,233.5L317.6,228.6L320.8,223.2L323.9,217.6L327.0,211.9L330.1,206.2L333.3,200.6L336.4,195.0L339.5,189.3L342.7,183.6L345.8,177.8L348.9,172.1L352.0,166.3L355.2,160.5L358.3,154.8L361.4,149.0L364.5,143.2L367.7,137.4L370.8,131.6L373.9,125.9L377.0,120.7L380.2,116.3L383.3,112.4L386.4,108.5L389.5,104.6L392.7,100.5L395.8,96.3L398.9,92.2L402.0,88.7L405.2,85.9L408.3,83.6L411.4,81.6L414.6,79.6L417.7,77.7L420.8,75.5L423.9,72.7L427.1,69.4L430.2,65.8L433.3,62.1L436.4,58.5L439.6,55.1L442.7,51.9L445.8,48.9L448.9,46.4L452.1,44.3L455.2,42.8L458.3,41.9L461.4,41.4L464.6,40.6L467.7,39.6L470.8,38.5L473.9,37.5L477.1,36.6L480.2,35.8L483.3,35.3L486.4,35.1L489.6,34.9L492.7,34.5L495.8,34.0L499.0,33.4L502.1,32.9L505.2,32.7L508.3,32.9L511.5,33.6L514.6,34.7L517.7,36.0L520.8,37.6L524.0,39.3L527.1,40.9L530.2,42.5L533.3,43.8L536.5,45.0L539.6,45.9L542.7,46.7L545.8,47.3L549.0,47.9L552.1,48.5L555.2,49.2L558.3,50.2L561.5,51.8L564.6,54.2" stroke="#4591ce"/>
<path d="M95.7,270.2L98.8,269.2L102.0,268.2L105.1,267.3L108.2,266.3L111.3,265.3L114.5,264.2L117.6,263.0L120.7,261.8L123.8,260.6L127.0,259.4L130.1,258.1L133.2,256.8L136.3,255.6L139.5,254.3L142.6,253.0L145.7,251.7L148.8,250.4L152.0,249.1L155.1,247.7L158.2,246.4L161.3,245.0L164.5,243.5L167.6,241.7L170.7,239.9L173.8,238.1L177.0,236.3L180.1,234.8L183.2,233.5L186.4,232.3L189.5,231.1L192.6,229.8L195.7,228.4L198.9,227.0L202.0,225.6L205.1,224.3L208.2,223.1L211.4,222.0L214.5,220.9L217.6,220.0L220.7,219.4L223.9,219.2L227.0,219.2L230.1,219.5L233.2,220.0L236.4,220.8L239.5,221.7L242.6,222.7L245.7,223.7L248.9,224.6L252.0,225.4L255.1,225.9L258.3,226.1L261.4,226.1L264.5,225.9L267.6,225.4L270.8,224.5L273.9,223.2L277.0,221.4L280.1,219.3L283.3,217.3L286.4,215.8L289.5,214.4L292.6,212.5L295.8,210.4L298.9,208.7L302.0,207.6L305.1,207.0L308.3,206.6L311.4,206.2L314.5,205.7L317.6,204.9L320.8,204.0L323.9,203.0L327.0,201.9L330.1,200.8L333.3,199.5L336.4,198.0L339.5,196.6L342.7,195.1L345.8,193.7L348.9,192.3L352.0,190.9L355.2,189.6L358.3,188.3L361.4,187.1L364.5,185.9L367.7,184.9L370.8,183.9L373.9,183.0L377.0,182.2L380.2,181.6L383.3,181.2L386.4,180.9L389.5,180.5L392.7,179.9L395.8,179.2L398.9,178.4L402.0,177.7L405.2,176.9L408.3,175.9L411.4,174.6L414.6,173.1L417.7,171.4L420.8,169.5L423.9,167.5L427.1,165.5L430.2,163.7L433.3,161.9L436.4,160.2L439.6,158.7L442.7,157.5L445.8,156.6L448.9,156.0L452.1,155.8L455.2,155.7L458.3,155.3L461.4,154.7L464.6,153.9L467.7,152.7L470.8,151.5L473.9,150.3L477.1,149.1L480.2,148.0L483.3,146.8L486.4,145.8L489.6,144.8L492.7,143.9L495.8,143.0L499.0,142.1L502.1,141.2L505.2,140.3L508.3,139.5L511.5,138.6L514.6,137.7L517.7,137.1L520.8,136.9L524.0,136.8L527.1,136.8L530.2,136.8L533.3,136.7L536.5,136.6L539.6,136.5L542.7,136.1L545.8,135.5L549.0,134.8L552.1,134.0L555.2,133.1L558.3,132.2L561.5,131.3L564.6,130.4" stroke="#c2387f"/>
<path d="M95.7,301.9L98.8,301.9L102.0,301.9L105.1,301.9L108.2,301.9L111.3,301.9L114.5,301.9L117.6,301.9L120.7,301.9L123.8,301.9L127.0,301.9L130.1,301.9L133.2,301.9L136.3,301.9L139.5,301.9L142.6,301.9L145.7,301.9L148.8,301.9L152.0,301.9L155.1,301.9L158.2,301.9L161.3,301.6L164.5,301.0L167.6,299.9L170.7,298.7L173.8,297.6L177.0,296.6L180.1,296.0L183.2,295.7L186.4,295.6L189.5,295.6L192.6,295.6L195.7,295.6L198.9,295.6L202.0,295.6L205.1,295.6L208.2,295.6L211.4,295.6L214.5,295.6L217.6,295.6L220.7,295.6L223.9,295.5L227.0,295.2L230.1,294.4L233.2,293.5L236.4,292.5L239.5,291.6L242.6,290.8L245.7,290.1L248.9,289.5L252.0,289.3L255.1,289.2L258.3,289.2L261.4,289.2L264.5,289.1L267.6,288.7L270.8,287.6L273.9,286.3L277.0,285.0L280.1,284.0L283.3,283.3L286.4,282.8L289.5,282.4L292.6,281.8L295.8,281.1L298.9,280.1L302.0,278.9L305.1,277.5L308.3,276.2L311.4,274.8L314.5,273.5L317.6,272.2L320.8,271.1L323.9,269.9L327.0,268.7L330.1,267.4L333.3,265.8L336.4,264.1L339.5,262.3L342.7,260.5L345.8,258.6L348.9,256.7L352.0,254.7L355.2,252.7L358.3,250.7L361.4,248.8L364.5,247.0L367.7,245.4L370.8,243.8L373.9,242.3L377.0,240.8L380.2,239.6L383.3,238.4L386.4,237.3L389.5,236.0L392.7,234.5L395.8,232.8L398.9,231.0L402.0,229.3L405.2,227.5L408.3,226.0L411.4,224.6L414.6,223.4L417.7,222.3L420.8,221.1L423.9,219.9L427.1,218.5L430.2,217.1L433.3,215.8L436.4,214.6L439.6,213.8L442.7,213.2L445.8,212.5L448.9,211.8L452.1,210.9L455.2,209.9L458.3,209.1L461.4,208.3L464.6,207.5L467.7,206.8L470.8,205.9L473.9,205.0L477.1,204.0L480.2,203.0L483.3,202.0L486.4,200.9L489.6,199.9L492.7,198.8L495.8,197.7L499.0,196.6L502.1,195.5L505.2,194.3L508.3,193.0L511.5,191.7L514.6,190.5L517.7,189.2L520.8,188.2L524.0,187.7L527.1,187.6L530.2,187.8L533.3,187.8L536.5,187.7L539.6,187.3L542.7,186.8L545.8,186.1L549.0,185.3L552.1,184.4L555.2,183.6L558.3,182.8L561.5,182.0L564.6,181.3" stroke="#1c1c1c"/>
</g>
<circle cx="564.9" cy="73.3" r="3.1" fill="#df615d"/>
<circle cx="564.9" cy="143.1" r="3.1" fill="#f69f54"/>
<circle cx="564.9" cy="117.7" r="3.1" fill="#93a532"/>
<circle cx="564.9" cy="66.9" r="3.1" fill="#5bba47"/>
<circle cx="564.9" cy="117.7" r="3.1" fill="#3f9b3c"/>
<circle cx="564.9" cy="86.0" r="3.1" fill="#3cbcb7"/>
<circle cx="564.9" cy="130.4" r="3.1" fill="#a593cc"/>
<circle cx="564.9" cy="98.7" r="3.1" fill="#d86a9b"/>
<circle cx="564.9" cy="54.2" r="3.1" fill="#4591ce"/>
<circle cx="564.9" cy="130.4" r="3.1" fill="#c2387f"/>
<circle cx="564.9" cy="181.3" r="3.1" fill="#1c1c1c"/>
<g stroke="#505050" stroke-width="1.2">
<line x1="58.5" x2="66.2" y1="333.7" y2="333.7"/>
<line x1="58.5" x2="66.2" y1="270.2" y2="270.2"/>
<line x1="58.5" x2="66.2" y1="206.7" y2="206.7"/>
<line x1="58.5" x2="66.2" y1="143.1" y2="143.1"/>
<line x1="58.5" x2="66.2" y1="79.6" y2="79.6"/>
<line x1="58.5" x2="66.2" y1="16.1" y2="16.1"/>
<line x1="95.7" x2="95.7" y1="349.6" y2="357"/>
<line x1="252.4" x2="252.4" y1="349.6" y2="357"/>
<line x1="408.4" x2="408.4" y1="349.6" y2="357"/>
<line x1="564.6" x2="564.6" y1="349.6" y2="357"/>
</g>
<g font-family="'Liberation Sans', sans-serif" fill="#333">
<text transform="translate(49.6,338.6) scale(1.070,1.000)" font-size="15.8" text-anchor="end">0</text>
<text transform="translate(50.6,275.1) scale(1.070,1.000)" font-size="15.8" text-anchor="end">10</text>
<text transform="translate(50.6,211.6) scale(1.070,1.000)" font-size="15.8" text-anchor="end">20</text>
<text transform="translate(50.6,148.0) scale(1.070,1.000)" font-size="15.8" text-anchor="end">30</text>
<text transform="translate(50.6,84.5) scale(1.070,1.000)" font-size="15.8" text-anchor="end">40</text>
<text transform="translate(50.6,21.0) scale(1.070,1.000)" font-size="15.8" text-anchor="end">50</text>
<text transform="translate(95.6,377.7) scale(0.990,1.000)" font-size="15.8" text-anchor="middle">1950</text>
<text transform="translate(251.9,377.7) scale(1.118,1.000)" font-size="15.8" text-anchor="middle">2000</text>
<text transform="translate(408.2,377.7) scale(1.067,1.000)" font-size="15.8" text-anchor="middle">2050</text>
<text transform="translate(564.5,377.7) scale(0.975,1.000)" font-size="15.8" text-anchor="middle">2100</text>
<text transform="translate(393.1,404.9) scale(0.930,1.000)" font-size="17.5" text-anchor="middle">Year</text>
<text transform="translate(13.6,174.5) rotate(-90) scale(1.028,1.000)" font-size="17.5" text-anchor="middle">Population age 65+ (%)</text>
</g>
<g font-family="'Liberation Sans', sans-serif">
<text transform="translate(670.3,45.7) scale(0.994,1.000)" font-size="12.6" text-anchor="end" fill="#4591ce">South Korea | 44</text>
<text transform="translate(670.3,62.6)" font-size="12.6" text-anchor="end" fill="#5bba47">Hong Kong | 42</text>
<text transform="translate(670.3,77.0) scale(0.955,1.000)" font-size="12.6" text-anchor="end" fill="#df615d">China | 41</text>
<text transform="translate(670.3,90.1) scale(0.966,1.000)" font-size="12.6" text-anchor="end" fill="#3cbcb7">Japan | 39</text>
<text transform="translate(670.3,101.6) scale(0.995,1.000)" font-size="12.6" text-anchor="end" fill="#d86a9b">Singapore | 37</text>
<text transform="translate(670.3,116.1) scale(1.019,1.000)" font-size="12.6" text-anchor="end" fill="#3f9b3c">Iceland | 34</text>
<text transform="translate(670.3,127.2) scale(1.008,1.000)" font-size="12.6" text-anchor="end" fill="#93a532">Finland | 34</text>
<text transform="translate(670.3,143.7) scale(0.978,1.000)" font-size="12.6" text-anchor="end" fill="#a593cc">Norway | 32</text>
<text transform="translate(670.3,160.7) scale(0.989,1.000)" font-size="12.6" text-anchor="end" fill="#c2387f">Sweden | 32</text>
<text transform="translate(670.3,177.9) scale(1.017,1.000)" font-size="12.6" text-anchor="end" fill="#f69f54">Denmark | 30</text>
<text transform="translate(670.3,195.1)" font-size="12.6" text-anchor="end" fill="#1c1c1c">World | 24</text>
</g>
</svg>
</body></html>
